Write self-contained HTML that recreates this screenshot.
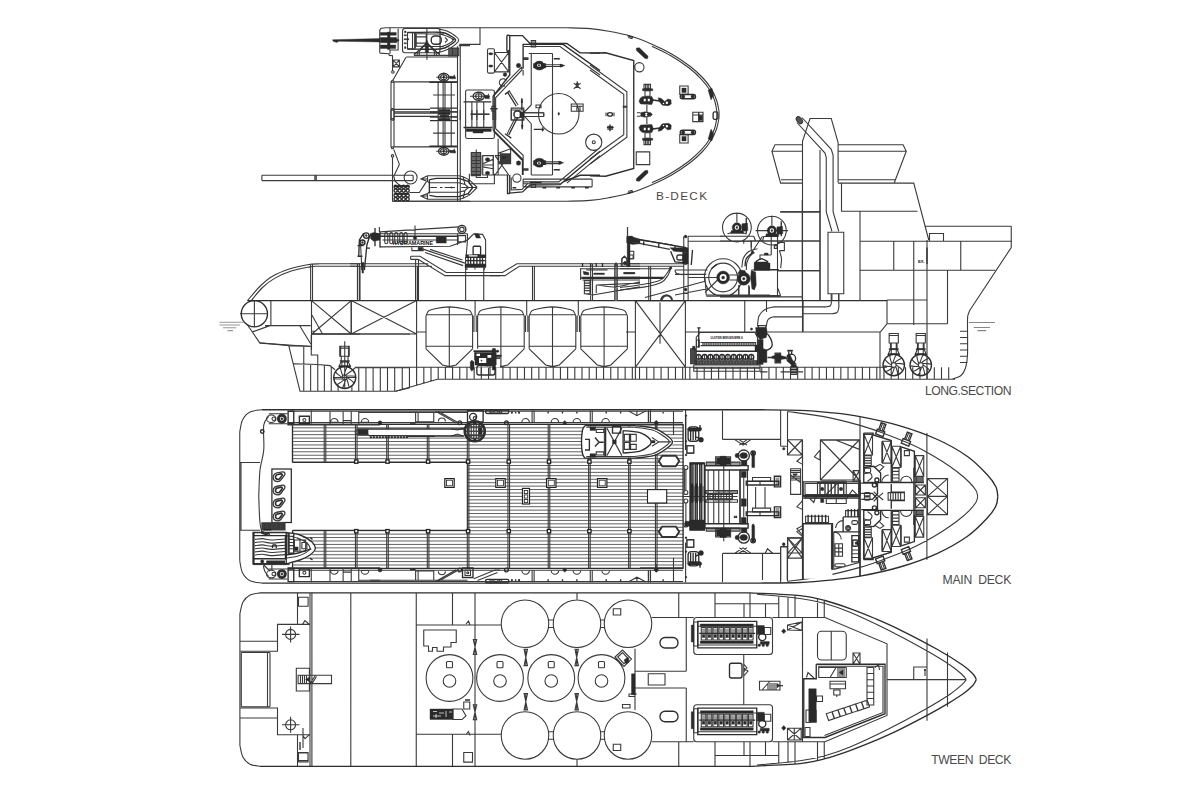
<!DOCTYPE html>
<html lang="en"><head><meta charset="utf-8"><title>General arrangement</title>
<style>
html,body{margin:0;padding:0;background:#fff}
body{width:1200px;height:800px;overflow:hidden;font-family:"Liberation Sans",sans-serif}
svg{display:block}
svg path{fill:none;stroke:#3a3a3a;stroke-width:1.1;stroke-linecap:butt;stroke-linejoin:miter}
svg path.b{stroke-width:1.35;stroke:#2e2e2e}
svg path.f{fill:#2a2a2a;stroke:#2a2a2a;stroke-width:.4}
svg path.g{fill:#9a9a9a;stroke:none}
svg path.w{fill:#fff;stroke:none}
svg text{font-family:"Liberation Sans",sans-serif;fill:#4a4a4a}
</style></head><body>
<svg width="1200" height="800" viewBox="0 0 1200 800">
<g id="p_10_bdeck_a">
<path d="M379.75 53.12 L379.75 30.62M379.75 30.62 C379.89 30.31 380.06 29.19 380.62 28.75 C381.18 28.31 381.97 28.17 383.12 28 C384.27 27.83 386.77 27.79 387.5 27.75M387.5 27.75 L470 27.75M379.75 53.12 L388.75 53.75 L389.38 55.38 L392.5 55.75 L392.5 70.62M398.12 28.75 L398.12 50 L390 50M390 27.75 L390 31.88M390 49.38 L390 53.75M405.25 28.5 H437.25 A2.75 2.75 0 0 1 440 31.25 V50 A2.75 2.75 0 0 1 437.25 52.75 H405.25 A2.75 2.75 0 0 1 402.5 50 V31.25 A2.75 2.75 0 0 1 405.25 28.5ZM437.5 28.5 C439.17 28.96 444.48 29.96 447.5 31.25 C450.52 32.54 453.75 34.79 455.62 36.25 C457.50 37.71 458.75 38.64 458.75 40 C458.75 41.36 457.50 42.82 455.62 44.38 C453.75 45.94 450.52 47.98 447.5 49.38 C444.48 50.78 439.17 52.19 437.5 52.75M440 34 C441.46 34.48 446.56 35.88 448.75 36.88 C450.94 37.88 453.12 38.86 453.12 40 C453.12 41.14 450.94 42.54 448.75 43.75 C446.56 44.96 441.46 46.67 440 47.25M407.5 32.5 L415 32.5 L415 49 L407.5 49ZM412.5 32.5 L412.5 49M416.25 33.75 L426.25 33.75 L426.25 46.25 L416.25 46.25ZM416.25 36.88 L426.25 36.88M416.25 43.12 L426.25 43.12M427.5 34 L443.75 34M427.5 46.5 L443.75 46.5M445 37.5 L447.5 40 L445 42.5M426.88 28.12 L426.88 59.75M424.5 45 L416.88 54.75M429.25 45 L436.88 54.75M414.38 52.75 L419.38 52.75 L419.38 55.5 L414.38 55.5ZM434.38 52.75 L439.38 52.75 L439.38 55.5 L434.38 55.5ZM414.38 55.38 L458.75 55.38M406.25 57 L457.5 57M448.75 48.12 L458.75 48.12 L458.75 55.62 L448.75 55.62ZM450 48.12 L450 55.62M451.25 48.12 L451.25 55.62M452.5 48.12 L452.5 55.62M453.75 48.12 L453.75 55.62M455 48.12 L455 55.62M456.25 48.12 L456.25 55.62M457.5 48.12 L457.5 55.62M457.5 46.25 L457.5 120M460.25 45.62 L460.25 120M458.75 45.62 L470 45.62M393.12 60 L399.38 60 L399.38 66.88 L393.12 66.88ZM393.12 60 L399.38 66.88M399.38 60 L393.12 66.88M391.63 72 a1.25 1.25 0 1 0 2.5 0 a1.25 1.25 0 1 0 -2.5 0ZM406 57.25 L392.88 80.25M391.5 81.25 a1 1 0 1 0 2 0 a1 1 0 1 0 -2 0ZM391 81.25 L391 120M394 81.88 L394 120M394 81.88 L457.5 81.88M440.5 77.25 a3.25 2.5 0 1 0 6.5 0 a3.25 2.5 0 1 0 -6.5 0ZM443.75 72.5 L443.75 81.88M436.25 77.25 L455.62 77.25M438.12 82.25 L438.12 120M443.12 82.25 L443.12 120M445 82.25 L445 120M451.25 82.25 L451.25 120M433.12 95 L455 95M394 109.38 L430 109.38M394 113.12 L438.75 113.12M394 116.5 L438.75 116.5M391.625 109.38 a0.875 0.875 0 1 0 1.75 0 a0.875 0.875 0 1 0 -1.75 0ZM430 111.88 L457.5 111.88M430 116.88 L457.5 116.88"/>
<path class="b" d="M407.5 32.5 C412.92 32.46 432.92 31.73 440 32.25 C447.08 32.77 447.40 34.33 450 35.62 C452.60 36.91 455.62 38.44 455.62 40 C455.62 41.56 452.60 43.50 450 45 C447.40 46.50 447.08 48.33 440 49 C432.92 49.67 412.92 49.00 407.5 49M415 33.12 L415 48.12M434.75 36 H437.75 A3.5 3.5 0 0 1 441.25 39.5 V40.75 A3.5 3.5 0 0 1 437.75 44.25 H434.75 A3.5 3.5 0 0 1 431.25 40.75 V39.5 A3.5 3.5 0 0 1 434.75 36ZM426 43.75 L415 54M427.75 43.75 L438.75 54M429.38 82.25 L456.88 82.25M438.5 77.25 a5.25 3.75 0 1 0 10.5 0 a5.25 3.75 0 1 0 -10.5 0ZM430 108.12 L457.5 108.12"/>
<path class="f" d="M380.25 32.5 L396.25 32.5 L396.25 35.25 L380.25 35.25ZM380.25 37.5 L396.75 37.5 L396.75 42.75 L380.25 42.75ZM380.25 45 L395.75 45 L395.75 48.5 L380.25 48.5ZM387.5 32 L390 32 L390 49.5 L387.5 49.5ZM395 38.75 L399 39.75 L399 40.75 L395 42ZM332.5 39.75 L380 38.5 L380 42 L338.75 41.25 L336.88 42.5 L333.12 41.25ZM404.5 31 L406 31 L406 32.75 L404.5 32.75ZM404 34.75 L406.5 34.75 L406.5 35.75 L404 35.75ZM404 38.75 L409 38.75 L409 39.75 L404 39.75ZM404 42.75 L406.5 42.75 L406.5 43.75 L404 43.75ZM404.5 46.75 L406 46.75 L406 48.5 L404.5 48.5ZM452.5 38.75 L454.25 38.75 L454.25 40 L452.5 40ZM425 44.38 L426.88 40 L428.75 44.38ZM425.25 45 L428.5 45 L428.5 52.5 L425.25 52.5ZM442.75 77.25 a1 1 0 1 1 2 0 a1 1 0 1 1 -2 0ZM449.38 76 L453.12 76.5 L454.38 74.75 L455.62 78.75 L450 78.75ZM438.75 109.38 L450 109.38 L450 110.88 L438.75 110.88ZM438.75 112.5 L450 112.5 L450 114.25 L438.75 114.25ZM440 115.62 L448.75 115.62 L448.75 117.12 L440 117.12ZM438.75 118.75 L450 118.75 L450 120 L438.75 120Z"/>

</g>
<g id="p_11_bdeck_b">
<path class="g" d="M531.88 41.25 L535 41.25 L535 46.25 L531.88 46.25Z"/>
<path d="M480 27.75 L480 44.38 L459.38 44.38M523.75 46.5 L560 46.5 L600 75M521.88 66.88 L521.88 70 L495.62 97.75 L495.62 120M523.12 70 L523.12 75.62M521.88 66.88 L493.75 95.62M531.25 40.62 L535.62 40.62 L535.62 46.88 L531.25 46.88ZM528.75 53.5 L552.5 53.5M531.25 53.5 L531.25 105M552.5 53.5 L552.5 120M531.25 105 L523.75 112.5M545 64.75 L562.5 64.75M545 66.5 L562.5 66.5M523.12 57.88 L528.5 57.88M523.12 58.62 L528.5 58.62M523.12 59.38 L528.5 59.38M488.75 48.75 H493.13 A1.25 1.25 0 0 1 494.38 50 V71.87 A1.25 1.25 0 0 1 493.13 73.12 H488.75 A1.25 1.25 0 0 1 487.5 71.87 V50 A1.25 1.25 0 0 1 488.75 48.75ZM494.38 52.5 L508.75 52.5 L508.75 71.88 L494.38 71.88ZM494.38 52.5 L508.75 71.88M508.75 52.5 L494.38 71.88M505 85.75 A3.75 3.75 0 1 1 506.37 80.62M507.75 51.25 a1 1 0 1 0 2 0 a1 1 0 1 0 -2 0ZM573.75 83.12 L580.62 88.75M580.62 83.12 L573.75 88.75M576 84.38 a1.25 1.25 0 1 0 2.5 0 a1.25 1.25 0 1 0 -2.5 0ZM577.25 81.25 L577.25 88.12M538.5 113.75 a20.25 20.25 0 1 0 40.5 0 a20.25 20.25 0 1 0 -40.5 0ZM571.25 104 L583.12 104 L583.12 111.25 L571.25 111.25ZM571.88 106.25 L582.5 106.25M576.88 106.25 L576.88 111.25M580 106.25 L580 111.25M536 105 L541 105 L541 107.75 L536 107.75ZM509.75 91.88 L518.12 105M511.25 108.12 L523.75 108.12 L523.75 120 L511.25 120ZM514 114.38 a3.5 3.5 0 1 0 7 0 a3.5 3.5 0 1 0 -7 0ZM523.75 112.75 L543.75 112.75M523.75 116.5 L543.75 116.5M543.75 112.75 L543.75 116.5M467.37 90 H492.63 A1.75 1.75 0 0 1 494.38 91.75 V136.75 A1.75 1.75 0 0 1 492.63 138.5 H467.37 A1.75 1.75 0 0 1 465.62 136.75 V91.75 A1.75 1.75 0 0 1 467.37 90ZM475.5 96.25 a3.25 2.5 0 1 0 6.5 0 a3.25 2.5 0 1 0 -6.5 0ZM478.75 91.88 L478.75 101.25M470 96.25 L490 96.25M471.88 101.88 L471.88 120M476.88 101.88 L476.88 120M483.75 101.88 L483.75 120M470.62 114 L489.38 114M491.88 106.25 L495.62 106.25 L495.62 111.25 L491.88 111.25Z"/>
<path class="b" d="M507.88 35.25 H508.75 A1 1 0 0 1 509.75 36.25 V50.5 A1 1 0 0 1 508.75 51.5 H507.88 A1 1 0 0 1 506.88 50.5 V36.25 A1 1 0 0 1 507.88 35.25ZM509.75 35.62 L522.5 35.62 L530 43.5 L566.88 43.5 L580 52.75 L600 53.12M523.12 68.75 L523.12 44.38 L563.12 44.38 L600 70.62M509.75 51.25 L509.75 75 L493.12 96.25 L493.12 120M553.75 58.75 L558.75 58.75M505 94.38 L510 90.62M507.75 92.5 L516.25 106.25M521.88 98.75 L521.88 110M473.125 96.25 a5.625 4 0 1 0 11.25 0 a5.625 4 0 1 0 -11.25 0ZM463.5 101.88 L491.25 101.88M490.25 108.75 L497.5 108.75"/>
<path class="f" d="M533.63 65.62 a5.75 4.5 0 1 1 11.5 0 a5.75 4.5 0 1 1 -11.5 0ZM533.5 63.5 L545.75 63.5 L545.75 68 L533.5 68ZM560 64 L565 65.62 L560 67.25ZM558.25 58.75 a0.75 0.75 0 1 1 1.5 0 a0.75 0.75 0 1 1 -1.5 0ZM488.5 53.75 a2.25 1.125 0 1 1 4.5 0 a2.25 1.125 0 1 1 -4.5 0ZM488.5 66 a2.25 1.125 0 1 1 4.5 0 a2.25 1.125 0 1 1 -4.5 0ZM503.125 74.62 a1.875 1.875 0 1 1 3.75 0 a1.875 1.875 0 1 1 -3.75 0ZM516.25 65.62 a2.25 2.25 0 1 1 4.5 0 a2.25 2.25 0 1 1 -4.5 0ZM558 113.75 a0.75 1.5 0 1 1 1.5 0 a0.75 1.5 0 1 1 -1.5 0ZM521 102.5 L521.88 98.12 L522.75 102.5ZM520 111.88 L523.75 111.88 L523.75 117.5 L520 117.5ZM484.38 95 L487.5 95.62 L488.5 93.75 L489.5 98.75 L485 98.5Z"/>
<path class="w" d="M537 65.25 a2 1.5 0 1 1 4 0 a2 1.5 0 1 1 -4 0ZM543.12 61.88 L545.38 61.88 L545.38 63.12 L543.12 63.12Z"/>
<path class="f" d="M538.125 65.25 a0.875 0.875 0 1 1 1.75 0 a0.875 0.875 0 1 1 -1.75 0Z"/>
</g>
<g id="p_12_bdeck_c">
<path class="g" d="M481.25 155.62 L482.75 155.62 L482.75 174.38 L481.25 174.38Z"/>
<path d="M471.88 110 L471.88 127.5M476.88 110 L476.88 127.5M483.75 110 L483.75 127.5M470.62 114.38 L489.38 114.38M493.12 110 L493.12 130M495.62 110 L495.62 128.75M495.62 128.75 L523.12 155.25 L523.12 175M493.75 131.5 L521.88 160M515.62 116.88 L506.88 134.38M511.25 110 L523.75 110 L523.75 120 L511.25 120ZM514 114.38 a3.5 3.5 0 1 0 7 0 a3.5 3.5 0 1 0 -7 0ZM523.75 112.75 L543.75 112.75M523.75 116.5 L543.75 116.5M543.75 112.75 L543.75 116.5M525 116.88 L531.25 123.75M531.25 123.75 L531.25 175M552.5 110 L552.5 175M531.25 175 L552.5 175M541.88 127.5 L543.75 129.38 L541.88 131.25M585.625 142.25 a8.125 8.125 0 1 0 16.25 0 a8.125 8.125 0 1 0 -16.25 0ZM592.25 142.25 a1.5 1.5 0 1 0 3 0 a1.5 1.5 0 1 0 -3 0ZM545 161.88 L561.25 161.88M545 163.62 L561.25 163.62M523.12 168.75 L528.5 168.75M523.12 169.5 L528.5 169.5M523.12 170.25 L528.5 170.25M511.25 177.5 L511.25 190 L521.88 189.38 L528.12 183.12M523.12 181.88 L558.75 181.88 L600 147.5M566.88 183.12 L600 155.62M523.87 179.12 H591.37 A0.75 0.75 0 0 1 592.12 179.87 V186.13 A0.75 0.75 0 0 1 591.37 186.88 H523.87 A0.75 0.75 0 0 1 523.12 186.13 V179.87 A0.75 0.75 0 0 1 523.87 179.12ZM523.12 183.75 L560 183.75M531.25 184.38 L535.62 184.38 L535.62 187.5 L531.25 187.5ZM471.25 152.5 L480.62 152.5 L480.62 175.62 L471.25 175.62ZM471.25 153.75 L480.62 153.75M471.25 155.12 L480.62 155.12M471.25 156.5 L480.62 156.5M471.25 157.88 L480.62 157.88M471.25 159.25 L480.62 159.25M471.25 160.62 L480.62 160.62M471.25 162 L480.62 162M471.25 163.38 L480.62 163.38M471.25 164.75 L480.62 164.75M471.25 166.12 L480.62 166.12M471.25 167.5 L480.62 167.5M471.25 168.88 L480.62 168.88M471.25 170.25 L480.62 170.25M471.25 171.62 L480.62 171.62M471.25 173 L480.62 173M471.25 174.38 L480.62 174.38M476.25 149.38 L476.25 175.62M469.38 173.75 L469.38 183.75 L494.38 183.75 L494.38 173.75M476.25 175.62 L476.25 177.5 L487.5 177.5 L487.5 175M482.75 155.62 L493.38 155.62 L493.38 175 L482.75 175ZM482.75 165 L493.38 165M482.75 163.75 L493.12 159.38M482.75 166.88 L493.12 168.75M498.75 153.12 L510.62 148.75 L510.62 163.75 L498.75 163.75ZM500 153.75 L510.62 153.75M500 154.75 L510.62 154.75M500 155.75 L510.62 155.75M500 156.75 L510.62 156.75M500 157.75 L510.62 157.75M500 158.75 L510.62 158.75M500 159.75 L510.62 159.75M500 160.75 L510.62 160.75M500 161.75 L510.62 161.75M500 162.75 L510.62 162.75M495 155.62 L508.75 175M508.75 155.62 L495 175M493.12 155.62 L493.12 175M498.12 138.75 L498.12 175M494.38 175 L508.75 175M495 155.62 L510.62 155.62M512.755 178.12 a4.125 4.125 0 1 0 8.25 0 a4.125 4.125 0 1 0 -8.25 0Z"/>
<path class="b" d="M463.5 127.5 L492.5 127.5M493.12 130 L522.5 159.38 L522.5 175M517.5 117.5 L508.75 135M505 133.75 L511.25 138.12M522.25 117.5 L522.25 128.75M533.75 129.38 L543.12 129.38M553.75 169.75 L558.75 169.75M507.5 175 L507.5 193.5 L509.75 193.5M509.75 175 L509.75 193.12 L522.5 191.88 L530 185 L560 184.62 L600 151.25M563.12 181.88 L580 175.25 L600 175.25M512.5 187.75 L516.25 187.75M542.5 187.75 L546.25 187.75M556.25 187.75 L560 187.75M571.25 187.75 L575 187.75M585 187.75 L588.75 187.75"/>
<path class="f" d="M466.25 128.75 L491.25 128.75 L491.25 131.5 L466.25 131.5ZM473.12 131.5 L483.12 131.5 L483.12 133 L473.12 133ZM523.12 125 L522.25 129.38 L521.38 125ZM520 111.88 L523.75 111.88 L523.75 117.5 L520 117.5ZM533.63 162.75 a5.75 4.5 0 1 1 11.5 0 a5.75 4.5 0 1 1 -11.5 0ZM533.5 160.62 L545.75 160.62 L545.75 165.12 L533.5 165.12ZM558.75 161.12 L563.75 162.75 L558.75 164.38ZM558.25 169.75 a0.75 0.75 0 1 1 1.5 0 a0.75 0.75 0 1 1 -1.5 0ZM530 181.88 L541.25 181.88 L541.25 183.12 L530 183.12ZM485.25 159.38 a2.25 1.75 0 1 1 4.5 0 a2.25 1.75 0 1 1 -4.5 0ZM485.25 173.12 a2.25 1.75 0 1 1 4.5 0 a2.25 1.75 0 1 1 -4.5 0ZM501.75 157.25 a2 1.25 0 1 1 4 0 a2 1.25 0 1 1 -4 0ZM516.25 163.12 a2.25 2.25 0 1 1 4.5 0 a2.25 2.25 0 1 1 -4.5 0Z"/>
<path class="w" d="M537 163.12 a2 1.5 0 1 1 4 0 a2 1.5 0 1 1 -4 0ZM543.12 165 L545.38 165 L545.38 166.25 L543.12 166.25Z"/>
<path class="f" d="M538.125 163.12 a0.875 0.875 0 1 1 1.75 0 a0.875 0.875 0 1 1 -1.75 0Z"/>
</g>
<g id="p_13_bdeck_d">
<path d="M391 110 L391 147.5M394 110 L394 147.5M394 111.88 L438.75 111.88M394 116.25 L438.75 116.25M391.875 119.38 a0.875 0.875 0 1 0 1.75 0 a0.875 0.875 0 1 0 -1.75 0ZM394 146.88 L457.5 146.88M391.5 147.75 a1 1 0 1 0 2 0 a1 1 0 1 0 -2 0ZM393.75 149.38 L399.38 164.38 L393.75 176.25 L395 181.25 L400 185.62M391.25 155.88 a1.25 1.25 0 1 0 2.5 0 a1.25 1.25 0 1 0 -2.5 0ZM392.5 157.5 L392.5 201.25M440.5 151.25 a3.25 2.5 0 1 0 6.5 0 a3.25 2.5 0 1 0 -6.5 0ZM443.75 146.5 L443.75 156M436.25 151.25 L455.62 151.25M438.12 121.25 L438.12 146.25M443.12 121.25 L443.12 146.25M445 121.25 L445 146.25M451.25 121.25 L451.25 146.25M433.12 133.12 L455 133.12M430 111.88 L457.5 111.88M430 116.88 L457.5 116.88M457.5 110 L457.5 201.25M460.25 110 L460.25 201.25M261.88 175.25 L413.12 175.25M261.88 180.62 L413.12 180.62M413.12 175.25 L413.12 180.62M261.88 175.25 L261.88 180.62M316.25 175.25 L316.25 180.62M404.12 177.5 a6.5 6.5 0 1 0 13 0 a6.5 6.5 0 1 0 -13 0ZM392.5 201.25 L470 201.25M409.38 192.5 L419.38 192.5 L426.25 181.88"/>
<path class="b" d="M429.38 146.25 L456.88 146.25M438.5 151.25 a5.25 3.75 0 1 0 10.5 0 a5.25 3.75 0 1 0 -10.5 0ZM430 120.62 L457.5 120.62M315 175.25 L315 180.62M393.995 186.88 a1.625 1.625 0 1 0 3.25 0 a1.625 1.625 0 1 0 -3.25 0ZM397.995 186.88 a1.625 1.625 0 1 0 3.25 0 a1.625 1.625 0 1 0 -3.25 0ZM401.995 186.88 a1.625 1.625 0 1 0 3.25 0 a1.625 1.625 0 1 0 -3.25 0ZM405.995 186.88 a1.625 1.625 0 1 0 3.25 0 a1.625 1.625 0 1 0 -3.25 0ZM393.995 190.62 a1.625 1.625 0 1 0 3.25 0 a1.625 1.625 0 1 0 -3.25 0ZM397.995 190.62 a1.625 1.625 0 1 0 3.25 0 a1.625 1.625 0 1 0 -3.25 0ZM401.995 190.62 a1.625 1.625 0 1 0 3.25 0 a1.625 1.625 0 1 0 -3.25 0ZM405.995 190.62 a1.625 1.625 0 1 0 3.25 0 a1.625 1.625 0 1 0 -3.25 0ZM393.995 195.38 a1.625 1.625 0 1 0 3.25 0 a1.625 1.625 0 1 0 -3.25 0ZM397.995 195.38 a1.625 1.625 0 1 0 3.25 0 a1.625 1.625 0 1 0 -3.25 0ZM401.995 195.38 a1.625 1.625 0 1 0 3.25 0 a1.625 1.625 0 1 0 -3.25 0ZM405.995 195.38 a1.625 1.625 0 1 0 3.25 0 a1.625 1.625 0 1 0 -3.25 0ZM393.995 199.12 a1.625 1.625 0 1 0 3.25 0 a1.625 1.625 0 1 0 -3.25 0ZM397.995 199.12 a1.625 1.625 0 1 0 3.25 0 a1.625 1.625 0 1 0 -3.25 0ZM401.995 199.12 a1.625 1.625 0 1 0 3.25 0 a1.625 1.625 0 1 0 -3.25 0ZM405.995 199.12 a1.625 1.625 0 1 0 3.25 0 a1.625 1.625 0 1 0 -3.25 0Z"/>
<path class="f" d="M442.75 151.25 a1 1 0 1 1 2 0 a1 1 0 1 1 -2 0ZM449.38 150 L453.12 150.62 L454.38 148.75 L455.62 153.12 L450 152.75ZM438.75 110 L450 110 L450 111 L438.75 111ZM438.75 112.75 L450 112.75 L450 114.5 L438.75 114.5ZM440 115.62 L448.75 115.62 L448.75 117.12 L440 117.12ZM438.75 118.5 L450 118.5 L450 119.75 L438.75 119.75ZM394.38 185.62 L408.75 185.62 L408.75 186.88 L394.38 186.88ZM394.38 193.12 L408.75 193.12 L408.75 194.38 L394.38 194.38Z"/>
<path d="M427.5 175.81 L420.94 178.94 L427.5 181.44M420.94 178.94 L427.5 178.94M427.5 175.81 L458.75 175.81 L463.12 176.75 L469.38 179.88 L477.19 187.5M427.5 181.44 L429.38 182.69 L458.75 182.69 L465 184.56 L468.44 187.5M463.12 176.75 L465 184.56M469.38 179.88 L468.12 181.44M427.5 199.19 L420.94 196.06 L427.5 193.56M420.94 196.06 L427.5 196.06M427.5 199.19 L458.75 199.19 L463.12 198.25 L469.38 195.12 L477.19 187.5M427.5 193.56 L429.38 192.31 L458.75 192.31 L465 190.44 L468.44 187.5M463.12 198.25 L465 190.44M469.38 195.12 L468.12 193.56M427.5 175.81 L427.5 181.44M427.5 193.62 L427.5 199.25M430.31 187.5 L436.88 187.5M440 187.5 L442.5 187.5M444.69 187.5 L455 187.5M461.25 187.5 L465 187.5M465 187.5 L477.19 187.5"/>
<path class="b" d="M429.38 179.56 L436.25 178.38 L458.75 178.38 L468.12 181.44 L472.81 187.5M429.38 195.44 L436.25 196.62 L458.75 196.62 L468.12 193.56 L472.81 187.5M429.38 179.56 L429.38 193.62"/>
<path class="f" d="M450.94 186.75 L453.12 187.5 L450.94 188.25Z"/>
</g>
<g id="p_14_bdeck_e">
<path d="M470 27.75 L567 27.8M567 27.8 C570.83 27.93 583.04 28.03 590 28.6 C596.96 29.18 601.88 29.98 608.75 31.25 C615.62 32.52 623.96 34.06 631.25 36.25 C638.54 38.44 645.83 41.48 652.5 44.4 C659.17 47.32 665.00 50.11 671.25 53.75 C677.50 57.39 684.79 62.29 690 66.25 C695.21 70.21 698.96 73.75 702.5 77.5 C706.04 81.25 708.92 85.00 711.25 88.75 C713.58 92.50 715.24 96.46 716.5 100 C717.76 103.54 718.38 107.58 718.8 110 C719.22 112.42 718.97 113.75 719 114.5M567 201.2 C570.83 201.07 583.04 200.97 590 200.4 C596.96 199.83 601.88 199.03 608.75 197.75 C615.62 196.47 623.96 194.94 631.25 192.75 C638.54 190.56 645.83 187.52 652.5 184.6 C659.17 181.68 665.00 178.89 671.25 175.25 C677.50 171.61 684.79 166.71 690 162.75 C695.21 158.79 698.96 155.25 702.5 151.5 C706.04 147.75 708.92 144.00 711.25 140.25 C713.58 136.50 715.24 132.54 716.5 129 C717.76 125.46 718.38 121.42 718.8 119 C719.22 116.58 718.97 115.25 719 114.5M392.5 201.25 L567 201.2M652 46.2 C655.08 47.75 664.37 51.90 670.5 55.5 C676.63 59.10 683.72 63.92 688.8 67.8 C693.88 71.68 697.53 75.13 701 78.8 C704.47 82.47 707.33 86.18 709.6 89.8 C711.87 93.42 713.43 97.13 714.6 100.5 C715.77 103.87 716.23 107.67 716.6 110 C716.97 112.33 716.77 113.75 716.8 114.5M652 182.8 C655.08 181.25 664.37 177.10 670.5 173.5 C676.63 169.90 683.72 165.08 688.8 161.2 C693.88 157.32 697.53 153.87 701 150.2 C704.47 146.53 707.33 142.82 709.6 139.2 C711.87 135.58 713.43 131.87 714.6 128.5 C715.77 125.13 716.23 121.33 716.6 119 C716.97 116.67 716.77 115.25 716.8 114.5"/>
<text x="656" y="200.4" font-size="11.8" textLength="51" lengthAdjust="spacing">B-DECK</text>
<path d="M590 65 L626.88 91.88 L626.88 115M590 70 L623.75 94.38 L623.75 115M628.12 37.5 L632.5 38.75M644 84.38 L650.5 84.38 L650.5 88.75 L644 88.75ZM645.62 84.38 L645.62 88.75M647.25 84.38 L647.25 88.75M648.75 84.38 L648.75 88.75M645 90.75 L650 90.75 L650 96.25 L645 96.25ZM646.88 105 L646.88 111.88M636.88 112.75 L640 112.75M679.75 86 L688.12 86 L688.12 94.38 L679.75 94.38ZM590 164 L626.88 137.12 L626.88 114M590 159 L623.75 134.62 L623.75 114M628.12 191.5 L632.5 190.25M644 144.62 L650.5 144.62 L650.5 140.25 L644 140.25ZM645.62 144.62 L645.62 140.25M647.25 144.62 L647.25 140.25M648.75 144.62 L648.75 140.25M645 138.25 L650 138.25 L650 132.75 L645 132.75ZM646.88 124 L646.88 117.12M636.88 116.25 L640 116.25M679.75 143 L688.12 143 L688.12 134.62 L679.75 134.62ZM634.755 67.25 a4.625 4.625 0 1 0 9.25 0 a4.625 4.625 0 1 0 -9.25 0ZM606 112.5 L606 116.25M614 112.5 L614 116.25M606.88 127.5 L613.75 127.5M692.75 112.25 L703 112.25 L703 121.62 L692.75 121.62ZM692.75 115 L703 115M622.75 106.25 L627.5 106.25M622.75 107.12 L627.5 107.12"/>
<path class="b" d="M590 53.12 L605.62 52.75 L633.75 60.62 L633.75 115M627.5 35.62 L633.12 37.5M652.5 100 L660 101M682.25 94.5 H693.5 A2 2 0 0 1 695.5 96.5 V96.75 A2 2 0 0 1 693.5 98.75 H682.25 A2 2 0 0 1 680.25 96.75 V96.5 A2 2 0 0 1 682.25 94.5ZM590 175.88 L605.62 176.25 L633.75 168.38 L633.75 114M627.5 193.38 L633.12 191.5M652.5 129 L660 128M682.25 130.25 H693.5 A2 2 0 0 1 695.5 132.25 V132.5 A2 2 0 0 1 693.5 134.5 H682.25 A2 2 0 0 1 680.25 132.5 V132.25 A2 2 0 0 1 682.25 130.25ZM634 65 L634 69.5M607.5 114.38 a2.5 1.75 0 1 0 5 0 a2.5 1.75 0 1 0 -5 0ZM610 124.38 L610 131.25M698.75 112.25 L698.75 121.62M714.87 111.88 H716.13 A1.75 1.75 0 0 1 717.88 113.63 V117.63 A1.75 1.75 0 0 1 716.13 119.38 H714.87 A1.75 1.75 0 0 1 713.12 117.63 V113.63 A1.75 1.75 0 0 1 714.87 111.88Z"/>
<path class="f" d="M636.25 48.12 L639.38 47.75 L648.12 56.25 L647.5 58.75 L645 58.5 L636.5 50.62ZM708.12 90 L711.88 88.12 L713.75 95 L711 100ZM642.5 88.75 L652.75 88.75 L652.75 90.75 L642.5 90.75ZM640 98.5 L642.5 96.5 L651.88 96.5 L653.5 100 L651.88 104.5 L640.62 104 L639 101.5ZM640.25 112.75 L645 111.75 L651 112.75 L652.25 115 L641.5 115.5ZM658.12 97.75 L661 98.25 L664.75 101.5 L667.75 99 L671 99.75 L671.25 104 L668.5 105.75 L662.25 105.25 L658.75 100.75ZM681.88 88.12 L686.12 88.12 L686.12 92.5 L681.88 92.5ZM681.37 96.62 a1.75 1.75 0 1 1 3.5 0 a1.75 1.75 0 1 1 -3.5 0ZM691 96.62 a1.75 1.75 0 1 1 3.5 0 a1.75 1.75 0 1 1 -3.5 0ZM636.5 178.38 L645 170.5 L647.5 170.25 L648.12 172.75 L639.38 181.25 L636.25 180.88ZM711 129 L713.75 134 L711.88 140.88 L708.12 139ZM642.5 138.25 L652.75 138.25 L652.75 140.25 L642.5 140.25ZM639 127.5 L640.62 125 L651.88 124.5 L653.5 129 L651.88 132.5 L642.5 132.5 L640 130.5ZM641.5 113.5 L652.25 114 L651 116.25 L645 117.25 L640.25 116.25ZM658.75 128.25 L662.25 123.75 L668.5 123.25 L671.25 125 L671 129.25 L667.75 130 L664.75 127.5 L661 130.75 L658.12 131.25ZM681.88 136.5 L686.12 136.5 L686.12 140.88 L681.88 140.88ZM681.37 132.38 a1.75 1.75 0 1 1 3.5 0 a1.75 1.75 0 1 1 -3.5 0ZM691 132.38 a1.75 1.75 0 1 1 3.5 0 a1.75 1.75 0 1 1 -3.5 0ZM607.5 126.25 L613 126.25 L613 127.25 L607.5 127.25ZM607.5 128.5 L613 128.5 L613 129.5 L607.5 129.5ZM699 115.62 L702.5 115.62 L702.5 120.62 L699 120.62Z"/>
<path class="w" d="M643.75 98.75 L645.75 98.75 L645.75 101.25 L643.75 101.25ZM647.75 98.75 L649.75 98.75 L649.75 101.25 L647.75 101.25ZM645.125 113.75 a1.125 1.125 0 1 1 2.25 0 a1.125 1.125 0 1 1 -2.25 0ZM665.63 102.75 a1.25 1.25 0 1 1 2.5 0 a1.25 1.25 0 1 1 -2.5 0ZM662.75 103.5 a0.75 0.75 0 1 1 1.5 0 a0.75 0.75 0 1 1 -1.5 0ZM643.75 127.75 L645.75 127.75 L645.75 130.25 L643.75 130.25ZM647.75 127.75 L649.75 127.75 L649.75 130.25 L647.75 130.25ZM645.125 115.25 a1.125 1.125 0 1 1 2.25 0 a1.125 1.125 0 1 1 -2.25 0ZM665.63 126.25 a1.25 1.25 0 1 1 2.5 0 a1.25 1.25 0 1 1 -2.5 0ZM662.75 125.5 a0.75 0.75 0 1 1 1.5 0 a0.75 0.75 0 1 1 -1.5 0Z"/>
<path d="M636.25 151.88 L649.75 151.88 L649.75 164.62 L636.25 164.62Z"/>
</g>
<g id="p_20_ls_stern">
<path d="M247.5 300.62 C249.58 298.23 255.83 290.31 260 286.25 C264.17 282.19 267.50 279.17 272.5 276.25 C277.50 273.33 284.17 270.67 290 268.75 C295.83 266.83 302.50 265.58 307.5 264.75 C312.50 263.92 317.92 263.92 320 263.75M320 263.75 L360 263.75M251.25 300.62 C253.12 298.43 258.54 291.25 262.5 287.5 C266.46 283.75 270.21 280.87 275 278.12 C279.79 275.37 285.42 272.87 291.25 271 C297.08 269.13 305.83 267.67 310 266.88 C314.17 266.09 315.21 266.36 316.25 266.25M316.25 266.25 L360 266.25M254.38 300.62 L254.38 326.88M240 313.75 L267.5 313.75M270.88 300.62 L270.88 325.62M265 325.62 L310.62 325.62M310.62 264.75 L310.62 300.62M312.5 264.5 L312.5 300.62M311.5 300.62 L311.5 350M357.5 263.75 L357.5 300.62M359.38 263.75 L359.38 300.62M311.5 300.62 L351.25 334M351.25 300.62 L311.88 334M311.88 315 L322.5 334M351.25 300.62 L351.25 334M311.5 334 L360 334M312.25 331.25 L315 331.25M247.5 325 L260 343.12 L310.62 346.5M252.5 331.88 L270 325.62M300 326.25 L310.62 343.75"/>
<path class="b" d="M241.255 313.75 a13.125 13.125 0 1 0 26.25 0 a13.125 13.125 0 1 0 -26.25 0Z"/>
<path style="stroke:#999" d="M219.4 322.2H243.8M219.4 325H240M223 327.8H236.2M227.5 330.6H233"/>
<path d="M288.75 345.62 L300 391.25 L395.62 391.25 L410 387.75M260 342.75 L288.75 345.62 L310.62 346.25M303.75 346.25 L303.75 391.25M311.25 335 L311.25 355 L317.75 355 L317.75 365M293.75 363.75 L317.75 364.5 L330 365.62 L335 369.75M355 367.75 L410 367.75M355 367.75 L353.12 369.75M310.62 365 L310.62 391.25M317.75 365 L317.75 391.25M324.38 365.75 L324.38 391.25M331.25 365.75 L331.25 391.25M338.12 385 L338.12 391.25M351.88 385 L351.88 391.25M358.75 367.75 L358.75 391.25M365.94 367.75 L365.94 391.25M373.12 367.75 L373.12 391.25M380.31 367.75 L380.31 391.25M387.5 367.75 L387.5 391.25M394.69 367.75 L394.69 391.25M311.25 334 L410 334M342.5 377.5 a2.25 2.25 0 1 0 4.5 0 a2.25 2.25 0 1 0 -4.5 0ZM344.75 341.25 L344.75 388.75M333.12 377.5 L356.25 377.5M347.25 377.5 C347.97 378.03 350.42 379.77 351.55 380.67 C352.69 381.57 353.64 382.51 354.06 382.88M346.77 378.97 C347.04 379.82 348.00 382.67 348.39 384.06 C348.78 385.45 349.00 386.78 349.12 387.32M345.52 379.88 C345.24 380.72 344.34 383.58 343.84 384.94 C343.34 386.30 342.73 387.51 342.51 388.02M343.98 379.88 C343.26 380.40 340.84 382.19 339.64 382.99 C338.44 383.79 337.24 384.41 336.76 384.69M342.73 378.97 C341.84 378.96 338.83 378.99 337.39 378.93 C335.94 378.87 334.62 378.67 334.06 378.62M342.25 377.5 C341.53 376.97 339.08 375.23 337.95 374.33 C336.81 373.43 335.86 372.49 335.44 372.12M342.73 376.03 C342.46 375.18 341.50 372.33 341.11 370.94 C340.72 369.55 340.50 368.22 340.38 367.68M343.98 375.12 C344.26 374.28 345.16 371.42 345.66 370.06 C346.16 368.70 346.77 367.49 346.99 366.98M345.52 375.12 C346.24 374.60 348.66 372.81 349.86 372.01 C351.06 371.21 352.26 370.59 352.74 370.31M346.77 376.03 C347.66 376.04 350.67 376.01 352.11 376.07 C353.56 376.13 354.88 376.33 355.44 376.38M339.75 346.25 L349.25 346.25 L349.25 356.25 L339.75 356.25ZM339.75 348.12 L349.25 348.12M340.62 346.25 L340.62 356.25M348.5 346.25 L348.5 356.25M341.25 356.25 L348 356.25 L348 361.88 L341.25 361.88ZM341 361.88 L338.75 366.88M348.25 361.88 L350.75 366.88M341.88 361.88 L341.88 366.25M347.5 361.88 L347.5 366.25"/>
<path class="b" d="M333.75 377.5 a11 11 0 1 0 22 0 a11 11 0 1 0 -22 0Z"/>
<path class="f" d="M340 360.62 L349.5 360.62 L349.5 361.62 L340 361.62ZM339 365.62 L350.5 365.62 L350.5 366.88 L339 366.88Z"/>
</g>
<g id="p_21_ls_hull">
<path d="M887 300 L927 300M437.5 379.2 L955 379.2M355 367.2 L887 367.2M395.6 391.25 L437.5 379.2M402.25 367.2 L402.25 389.34M409.44 367.2 L409.44 387.27M416.63 367.2 L416.63 385.2M423.82 367.2 L423.82 383.13M431.01 367.2 L431.01 381.07M438.2 367.2 L438.2 379.2M445.39 367.2 L445.39 379.2M452.58 367.2 L452.58 379.2M459.77 367.2 L459.77 379.2M466.96 367.2 L466.96 379.2M474.15 367.2 L474.15 379.2M481.34 367.2 L481.34 379.2M488.53 367.2 L488.53 379.2M495.72 367.2 L495.72 379.2M502.91 367.2 L502.91 379.2M510.1 367.2 L510.1 379.2M517.29 367.2 L517.29 379.2M524.48 367.2 L524.48 379.2M531.67 367.2 L531.67 379.2M538.86 367.2 L538.86 379.2M546.05 367.2 L546.05 379.2M553.24 367.2 L553.24 379.2M560.43 367.2 L560.43 379.2M567.62 367.2 L567.62 379.2M574.81 367.2 L574.81 379.2M582 367.2 L582 379.2M589.19 367.2 L589.19 379.2M596.38 367.2 L596.38 379.2M603.57 367.2 L603.57 379.2M610.76 367.2 L610.76 379.2M617.95 367.2 L617.95 379.2M625.14 367.2 L625.14 379.2M632.33 367.2 L632.33 379.2M639.52 367.2 L639.52 379.2M646.71 367.2 L646.71 379.2M653.9 367.2 L653.9 379.2M661.09 367.2 L661.09 379.2M668.28 367.2 L668.28 379.2M675.47 367.2 L675.47 379.2M682.66 367.2 L682.66 379.2M689.85 367.2 L689.85 379.2M697.04 367.2 L697.04 379.2M704.23 367.2 L704.23 379.2M711.42 367.2 L711.42 379.2M718.61 367.2 L718.61 379.2M725.8 367.2 L725.8 379.2M732.99 367.2 L732.99 379.2M740.18 367.2 L740.18 379.2M747.37 367.2 L747.37 379.2M754.56 367.2 L754.56 379.2M761.75 367.2 L761.75 379.2M768.94 367.2 L768.94 379.2M776.13 367.2 L776.13 379.2M783.32 367.2 L783.32 379.2M790.51 367.2 L790.51 379.2M797.7 367.2 L797.7 379.2M804.89 367.2 L804.89 379.2M812.08 367.2 L812.08 379.2M819.27 367.2 L819.27 379.2M826.46 367.2 L826.46 379.2M833.65 367.2 L833.65 379.2M840.84 367.2 L840.84 379.2M848.03 367.2 L848.03 379.2M855.22 367.2 L855.22 379.2M862.41 367.2 L862.41 379.2M869.6 367.2 L869.6 379.2M876.79 367.2 L876.79 379.2M883.98 367.2 L883.98 379.2M891.17 367.2 L891.17 379.2M898.36 367.2 L898.36 379.2M905.55 367.2 L905.55 379.2M912.74 367.2 L912.74 379.2M919.93 367.2 L919.93 379.2M927.12 367.2 L927.12 379.2M934.31 367.2 L934.31 379.2M941.5 367.2 L941.5 379.2M948.69 367.2 L948.69 379.2M416.6 300.6 L416.6 386M415.6 266.25 L415.6 300.6M417.5 266.25 L417.5 300.6M311.5 334 L416.6 334M416.6 332 L425.9 332M626 332 L635.4 332M685.4 332 L757 332M768 332 L880 332M351.25 300.6 L351.25 334M351.25 300.6 L416.6 334M416.6 300.6 L351.25 334M426 348.8 L426 316M426 316 C426.25 315.42 426.67 313.53 427.5 312.5 C428.33 311.47 427.37 310.73 431 309.8 C434.63 308.87 443.20 306.90 449.3 306.9 C455.40 306.90 463.97 308.87 467.6 309.8 C471.23 310.73 470.27 311.47 471.1 312.5 C471.93 313.53 472.35 315.42 472.6 316M472.6 316 L472.6 348.8M426 348.8 L442.5 365 L449.3 366.6 L456.1 365 L472.6 348.8M426 314.7 L472.6 314.7M426 346.2 L472.6 346.2M449.3 306.9 L449.3 366.6M477.6 348.8 L477.6 316M477.6 316 C477.85 315.42 478.27 313.53 479.1 312.5 C479.93 311.47 478.97 310.73 482.6 309.8 C486.23 308.87 494.80 306.90 500.9 306.9 C507.00 306.90 515.57 308.87 519.2 309.8 C522.83 310.73 521.87 311.47 522.7 312.5 C523.53 313.53 523.95 315.42 524.2 316M524.2 316 L524.2 348.8M477.6 348.8 L494.1 365 L500.9 366.6 L507.7 365 L524.2 348.8M477.6 314.7 L524.2 314.7M477.6 346.2 L524.2 346.2M500.9 306.9 L500.9 366.6M529.2 348.8 L529.2 316M529.2 316 C529.45 315.42 529.87 313.53 530.7 312.5 C531.53 311.47 530.57 310.73 534.2 309.8 C537.83 308.87 546.40 306.90 552.5 306.9 C558.60 306.90 567.17 308.87 570.8 309.8 C574.43 310.73 573.47 311.47 574.3 312.5 C575.13 313.53 575.55 315.42 575.8 316M575.8 316 L575.8 348.8M529.2 348.8 L545.7 365 L552.5 366.6 L559.3 365 L575.8 348.8M529.2 314.7 L575.8 314.7M529.2 346.2 L575.8 346.2M552.5 306.9 L552.5 366.6M580.8 348.8 L580.8 316M580.8 316 C581.05 315.42 581.47 313.53 582.3 312.5 C583.13 311.47 582.17 310.73 585.8 309.8 C589.43 308.87 598.00 306.90 604.1 306.9 C610.20 306.90 618.77 308.87 622.4 309.8 C626.03 310.73 625.07 311.47 625.9 312.5 C626.73 313.53 627.15 315.42 627.4 316M627.4 316 L627.4 348.8M580.8 348.8 L597.3 365 L604.1 366.6 L610.9 365 L627.4 348.8M580.8 314.7 L627.4 314.7M580.8 346.2 L627.4 346.2M604.1 306.9 L604.1 366.6M475.1 300.6 L475.1 315.5M473.95 315.5 L473.95 332M476.25 315.5 L476.25 332M526.7 300.6 L526.7 315.5M525.55 315.5 L525.55 332M527.85 315.5 L527.85 332M578.3 300.6 L578.3 315.5M577.15 315.5 L577.15 332M579.45 315.5 L579.45 332M635.4 300.6 L685.4 300.6 L685.4 367.2 L635.4 367.2ZM635.4 300.6 L685.4 367.2M685.4 300.6 L635.4 367.2M685.4 367.2 L685.4 379.2M635.4 367.2 L635.4 379.2M660 302.5 L660 343.8M660.6 300.6 A5.6 5.6 0 0 1 671.8 300.6M744.75 300.6 L744.75 332M766.5 300.6 L766.5 312M803.1 300.6 L803.1 332M757.5 326.5 C757.75 324.75 757.75 318.83 759 316 C760.25 313.17 762.54 311.02 765 309.5 C767.46 307.98 772.29 307.33 773.75 306.9M773.75 306.9 L803.1 306.9M766.3 326.5 C766.50 325.50 766.88 321.92 767.5 320.5 C768.12 319.08 768.96 318.60 770 318 C771.04 317.40 773.12 317.08 773.75 316.9M773.75 316.9 L803.1 316.9M803.1 306.9 L826 306.9M803.1 313.8 L832 313.8M826 306.9 C826.67 306.75 829.12 306.57 830 306 C830.88 305.43 831.04 304.50 831.25 303.5 C831.46 302.50 831.25 300.58 831.25 300M832 313.8 C832.83 313.58 835.88 313.47 837 312.5 C838.12 311.53 838.46 310.08 838.75 308 C839.04 305.92 838.75 301.33 838.75 300M831.25 293.75 L831.25 300.6M838.75 293.75 L838.75 300.6M802.5 300.6 L802.5 332.5M887 300.6 L887 323.75 L880 332.5 L880 379.2M887 323.75 L947.5 323.75M891.35 365 a2.4 2.4 0 1 0 4.8 0 a2.4 2.4 0 1 0 -4.8 0ZM896.25 365 C896.92 365.51 899.21 367.11 900.28 368.04 C901.35 368.97 902.25 370.14 902.65 370.56M895.77 366.47 C896.01 367.28 896.92 369.92 897.24 371.3 C897.56 372.68 897.61 374.17 897.68 374.74M894.52 367.38 C894.25 368.18 893.42 370.85 892.87 372.15 C892.32 373.45 891.49 374.68 891.21 375.19M892.98 367.38 C892.29 367.86 890.05 369.54 888.84 370.27 C887.63 371.00 886.23 371.50 885.71 371.75M891.73 366.47 C890.89 366.45 888.09 366.49 886.68 366.37 C885.27 366.25 883.85 365.84 883.28 365.73M891.25 365 C890.58 364.49 888.29 362.89 887.22 361.96 C886.15 361.03 885.25 359.86 884.85 359.44M891.73 363.53 C891.49 362.72 890.58 360.08 890.26 358.7 C889.94 357.32 889.89 355.83 889.82 355.26M892.98 362.62 C893.25 361.82 894.08 359.15 894.63 357.85 C895.18 356.55 896.01 355.32 896.29 354.81M894.52 362.62 C895.21 362.14 897.45 360.46 898.66 359.73 C899.87 359.00 901.27 358.50 901.79 358.25M895.77 363.53 C896.61 363.55 899.41 363.51 900.82 363.63 C902.23 363.75 903.65 364.16 904.22 364.27M889.15 333.5 L898.35 333.5 L898.35 343 L889.15 343ZM889.15 335.5 L898.35 335.5M890.45 343 L897.05 343 L897.05 349 L890.45 349ZM890.15 349.7 L887.95 355M897.35 349.7 L899.55 355M891.25 343 L891.25 354M896.25 343 L896.25 354M918.35 365 a2.4 2.4 0 1 0 4.8 0 a2.4 2.4 0 1 0 -4.8 0ZM923.25 365 C923.92 365.51 926.21 367.11 927.28 368.04 C928.35 368.97 929.25 370.14 929.65 370.56M922.77 366.47 C923.01 367.28 923.92 369.92 924.24 371.3 C924.56 372.68 924.61 374.17 924.68 374.74M921.52 367.38 C921.25 368.18 920.42 370.85 919.87 372.15 C919.32 373.45 918.49 374.68 918.21 375.19M919.98 367.38 C919.29 367.86 917.05 369.54 915.84 370.27 C914.63 371.00 913.23 371.50 912.71 371.75M918.73 366.47 C917.89 366.45 915.09 366.49 913.68 366.37 C912.27 366.25 910.85 365.84 910.28 365.73M918.25 365 C917.58 364.49 915.29 362.89 914.22 361.96 C913.15 361.03 912.25 359.86 911.85 359.44M918.73 363.53 C918.49 362.72 917.58 360.08 917.26 358.7 C916.94 357.32 916.89 355.83 916.82 355.26M919.98 362.62 C920.25 361.82 921.08 359.15 921.63 357.85 C922.18 356.55 923.01 355.32 923.29 354.81M921.52 362.62 C922.21 362.14 924.45 360.46 925.66 359.73 C926.87 359.00 928.27 358.50 928.79 358.25M922.77 363.53 C923.61 363.55 926.41 363.51 927.82 363.63 C929.23 363.75 930.65 364.16 931.22 364.27M916.15 333.5 L925.35 333.5 L925.35 343 L916.15 343ZM916.15 335.5 L925.35 335.5M917.45 343 L924.05 343 L924.05 349 L917.45 349ZM917.15 349.7 L914.95 355M924.35 349.7 L926.55 355M918.25 343 L918.25 354M923.25 343 L923.25 354M1011.25 226.25 L1011.25 247.5 L970 310M970 310 C969.67 310.83 968.42 313.00 968 315 C967.58 317.00 967.58 315.33 967.5 322 C967.42 328.67 967.83 347.33 967.5 355 C967.17 362.67 966.58 364.58 965.5 368 C964.42 371.42 963.25 373.63 961 375.5 C958.75 377.37 953.50 378.58 952 379.2M960 331.2 L967.5 331.2M960 337.5 L967.5 337.5M960 343.8 L967.5 343.8M960 350 L967.5 350M960 356.2 L967.5 356.2M960 362.5 L967.5 362.5"/>
<path class="b" d="M247.5 300.6 L887 300.6M883 365 a10.75 10.75 0 1 0 21.5 0 a10.75 10.75 0 1 0 -21.5 0ZM910 365 a10.75 10.75 0 1 0 21.5 0 a10.75 10.75 0 1 0 -21.5 0Z"/>
<path class="f" d="M889.15 348.5 L898.35 348.5 L898.35 349.7 L889.15 349.7ZM888.15 353.5 L899.35 353.5 L899.35 354.8 L888.15 354.8ZM916.15 348.5 L925.35 348.5 L925.35 349.7 L916.15 349.7ZM915.15 353.5 L926.35 353.5 L926.35 354.8 L915.15 354.8Z"/>
<path style="stroke:#888" d="M968.8 322.5H995M973.8 327.5H990M977.5 330.6H986.2"/>
<text x="925" y="395.2" font-size="12.2" textLength="86.5" lengthAdjust="spacing">LONG.SECTION</text>
</g>
<g id="p_22_ls_super">
<path d="M802.5 300.6 L802.5 141.25 L810 118.5 L831.25 118.5 L838.1 142.5 L838.1 182.5M820 150 L820 300.6M796.9 122.5 L825 153.1 L826.25 157.5 L826.25 211.9 L831.9 231.25M801.9 117.5 L831.25 149.4 L833.1 155 L833.1 211.9 L838.75 231.25M828 232.25 L843.75 232.25 L843.75 293.75 L828 293.75ZM802.5 183.1 L780.6 183.1 L771.9 151.25 L775 144.75 L802.5 144.75M838.1 144.75 L903.1 144.75 L906.25 151.25 L894.4 182.5M771.9 151.25 L802.5 151.25M838.1 151.25 L906.25 151.25M781 179.75 L802.5 179.75M838.1 179.75 L895.5 179.75M838.1 183.1 L913.75 183.1 L928.75 240M841.5 183.1 L841.5 211.25 L917.5 211.25M780 211.9 L820 211.9M860 211.25 L860 300.6M925 226.25 L1011.25 226.25M860 241.25 L1011.25 241.25M860 270.3 L947.5 270.3M913.75 270.3 L995.5 270.3M893.75 241.25 L893.75 270.3M913.75 241.25 L913.75 325M927 240 L927 379M960.75 241.25 L960.75 270.3M947.5 270.3 L947.5 323.75M929.5 233.5 L943.5 233.5 L943.5 241.25 L929.5 241.25ZM750 241 L802.5 241M777.5 270.6 L802.5 270.6M802.5 270.6 L820 270.6M802.5 241 L820 241M831.9 293.75 L831.9 300.6M838.75 293.75 L838.75 300.6"/>
<path class="b" d="M927 247.5 L927 264"/>
<ellipse cx="799.4" cy="120.2" rx="2.6" ry="4.2" transform="rotate(-38 799.4 120.2)" style="fill:#555;stroke:#222;stroke-width:.8"/>
<text x="918" y="262.8" font-size="4.2" font-weight="bold" style="fill:#111">EX.</text>
</g>
<g id="p_23_ls_deck">
<path d="M350 263.75 L428.12 263.75M350 266.25 L431.88 266.25M410.62 256.25 L420 256.25 L446.25 272.5 L500 272.5M410.62 259.38 L418.12 259.38 L445 275.62 L500 275.62M410.62 256.25 L410.62 259.38M357.5 266.25 L357.5 300.62M360 266.25 L360 300.62M415.62 259.38 L415.62 300.62M418.5 259.38 L418.5 300.62M465.62 266.25 L465.62 300.62M483.75 266.25 L483.75 300.62M380 231.88 L458.75 226.88M372.5 233.75 L457.5 233.75 L467.5 233.75M380 246.88 L450 246.25 L467.5 240 L467.5 233.75M379.38 226.88 L379.38 231.88M415 225.62 L415 238.75M382.5 240 L457.5 240M386.25 232.5 H386.25 A1.5 1.5 0 0 1 387.75 234 V242.25 A1.5 1.5 0 0 1 386.25 243.75 H386.25 A1.5 1.5 0 0 1 384.75 242.25 V234 A1.5 1.5 0 0 1 386.25 232.5ZM391.25 232.5 H391.25 A1.5 1.5 0 0 1 392.75 234 V242.25 A1.5 1.5 0 0 1 391.25 243.75 H391.25 A1.5 1.5 0 0 1 389.75 242.25 V234 A1.5 1.5 0 0 1 391.25 232.5ZM396.25 232.5 H396.25 A1.5 1.5 0 0 1 397.75 234 V242.25 A1.5 1.5 0 0 1 396.25 243.75 H396.25 A1.5 1.5 0 0 1 394.75 242.25 V234 A1.5 1.5 0 0 1 396.25 232.5ZM401.25 232.5 H401.25 A1.5 1.5 0 0 1 402.75 234 V242.25 A1.5 1.5 0 0 1 401.25 243.75 H401.25 A1.5 1.5 0 0 1 399.75 242.25 V234 A1.5 1.5 0 0 1 401.25 232.5ZM405.62 232.5 H405.62 A1.5 1.5 0 0 1 407.12 234 V242.25 A1.5 1.5 0 0 1 405.62 243.75 H405.62 A1.5 1.5 0 0 1 404.12 242.25 V234 A1.5 1.5 0 0 1 405.62 232.5ZM459.63 229.38 a2.25 2.25 0 1 0 4.5 0 a2.25 2.25 0 1 0 -4.5 0ZM457.5 233.75 L457.5 245M458.12 235.62 L465.62 235.62 L465.62 241.88 L458.12 241.88ZM360.62 245 L361.88 270M423.75 249.38 L465 263.12M425 252.5 L463.12 265.62M430 249.38 L462.5 260M411.88 246.88 L423.12 246.88 L423.12 250.62 L411.88 250.62ZM467.5 240 L473.75 233.75 L482.5 234.38 L485.62 240 L485.62 267.5M467.5 240 L466.25 255M465.62 257.5 L485.62 257.5 L485.62 264.38 L465.62 264.38ZM466.88 267.5 L466.88 270M484.38 267.5 L484.38 270M475 267.5 L475 269.38"/>
<path class="b" d="M380 231.88 L380 247.5M375 228.12 L375 246.25M372.5 236.25 L457.5 236.25M457.88 229.38 a4 4 0 1 0 8 0 a4 4 0 1 0 -8 0ZM363.5 235.62 a2.75 2.75 0 1 0 5.5 0 a2.75 2.75 0 1 0 -5.5 0ZM360 242.5 a2.5 2.5 0 1 0 5 0 a2.5 2.5 0 1 0 -5 0ZM363.75 233.12 L359.38 240 L358.75 256.25M370 235 L366.88 245 L364.38 270M357.5 245.62 L363.75 245.62M357.5 256.25 L362.5 256.25M366.25 248.12 L370 248.12M474.12 246.25 H479.62 A1 1 0 0 1 480.62 247.25 V254 A1 1 0 0 1 479.62 255 H474.12 A1 1 0 0 1 473.12 254 V247.25 A1 1 0 0 1 474.12 246.25ZM468.12 257.5 L468.12 264.38M470.62 257.5 L470.62 264.38M473.75 257.5 L473.75 264.38M476.88 257.5 L476.88 264.38M480 257.5 L480 264.38M482.5 257.5 L482.5 264.38M465.62 260.62 L485.62 260.62"/>
<path class="f" d="M413.25 238.12 a1.75 1.75 0 1 1 3.5 0 a1.75 1.75 0 1 1 -3.5 0ZM436.25 236.88 L446.25 236.88 L446.25 243.12 L436.25 243.12ZM365.25 235.62 a1 1 0 1 1 2 0 a1 1 0 1 1 -2 0ZM361.5 242.5 a1 1 0 1 1 2 0 a1 1 0 1 1 -2 0ZM361.5 262.5 L364 262.5 L363.5 273.12 L362 273.12ZM370 233.75 L373.75 232.5 L380 233.75 L380 240 L373.75 241.25 L370.62 238.75ZM418.12 247.25 L422.5 247.25 L422.5 250.25 L418.12 250.25ZM474.38 233.75 L478.75 233.75 L480.62 238.12 L476.25 238.12ZM465.62 254.75 L485.62 254.75 L485.62 257.5 L465.62 257.5ZM465 264.38 L485.62 264.38 L485.62 267.5 L465 267.5Z"/>
<path class="w" d="M468.75 255.25 L477.5 255.25 L477.5 256.5 L468.75 256.5Z"/>
<text x="392.6" y="245.4" font-size="5.2" font-weight="bold" textLength="40.5" lengthAdjust="spacingAndGlyphs" style="fill:#111">HYDRAMARINE</text>
<path class="g" d="M614.75 263.75 L617.25 263.75 L617.25 300.62 L614.75 300.62Z"/>
<path d="M490 272.5 L502.5 272.5 L516.88 263.75 L640 263.75M490 275.62 L505 275.62 L519.38 266.25 L640 266.25M532.5 266.25 L532.5 300.62M534.38 266.25 L534.38 300.62M590.62 263.75 L590.62 300.62M592.5 263.75 L592.5 300.62M614.75 263.75 L614.75 300.62M617.25 263.75 L617.25 300.62M580.62 268.12 L580.62 280M581.25 268.75 L640 268.75M582.5 280 L640 280M592.5 295 L640 286.88M585 293.75 L592.5 295M596.25 285 L640 283.12M596.25 285 L596.25 293.12M597.5 285 C600.42 285.31 607.92 287.40 615 286.88 C622.08 286.36 635.83 282.71 640 281.88M584.38 280.62 L590 280.62 L590 293.75 L584.38 293.75ZM584.38 283.12 L590 283.12M584.38 285.62 L590 285.62M584.38 288.12 L590 288.12M584.38 290.62 L590 290.62M586.25 270 L607.5 270M627.5 226.88 L627.5 237.5M629.38 255 L633.12 255 L633.12 258.75 L629.38 258.75ZM621.88 258.75 L624.38 256.25 L626.88 258.75 L626.88 266.25 L621.88 266.25Z"/>
<path class="b" d="M581.25 277.5 L640 277.5M581.25 278.25 L640 278.25M582.5 263.12 L582.5 266.88M590.62 263.12 L590.62 266.88M596.25 263.12 L596.25 266.88M602.5 263.12 L602.5 266.88M616 262.5 L616 266.25"/>
<path class="f" d="M593.75 273.12 L604.38 273.12 L604.38 274.62 L593.75 274.62ZM623.75 272.5 L634.38 272.5 L634.38 273.75 L623.75 273.75ZM583.12 271.25 L588.75 272.5 L588.75 275 L583.75 274.38ZM627.25 237.5 L629.25 237.5 L629.25 266.88 L627.25 266.88ZM626.88 236.88 L631.25 236.25 L640 239.38 L640 243.75 L632.5 244.38 L626.88 243.12ZM623.5 263.12 a1.5 1.5 0 1 1 3 0 a1.5 1.5 0 1 1 -3 0Z"/>
<path d="M620 263.75 L683.75 263.75M620 266.25 L683.75 266.25M648.75 266.25 L648.75 300.62M650.62 266.25 L650.62 300.62M620 268.75 L670 268.75M671.25 266.88 C670.73 268.23 669.79 272.40 668.12 275 C666.45 277.60 665.10 280.52 661.25 282.5 C657.40 284.48 651.88 285.63 645 286.88 C638.12 288.13 624.17 289.48 620 290M670 268.75 C668.96 270.21 665.83 275.42 663.75 277.5 C661.67 279.58 661.67 280.00 657.5 281.25 C653.33 282.50 645.00 283.96 638.75 285 C632.50 286.04 623.12 287.08 620 287.5M627.5 226.88 L627.5 236.25M629.38 251.25 L633.75 251.25 L633.75 258.75 L629.38 258.75ZM621.88 258.75 L624.38 256.25 L626.88 258.75 L626.88 266.25 L621.88 266.25ZM631.88 241.88 L670 249.38M636.25 239.38 L672.5 245M683.75 236.25 L683.75 300.62M688.12 236.25 L688.12 300.62M688.12 236.25 L723.75 236.25M688.12 241.25 L751.25 241.25M751.25 241.25 L751.25 251.25M675 270 L707.5 270M675 274.38 L706.25 274.38M675 270 C675.21 270.52 675.00 272.33 676.25 273.12 C677.50 273.91 681.46 274.48 682.5 274.75M645 297.5 L705 281.25M675 295 L707.5 288.75M661.25 300.62 A5.625 5.625 0 0 1 672.5 300.62M662.12 300.62 A4.75 4.75 0 0 1 671.62 300.62M704.37 277.5 a18.75 18.75 0 1 0 37.5 0 a18.75 18.75 0 1 0 -37.5 0ZM708.745 277.5 a14.375 14.375 0 1 0 28.75 0 a14.375 14.375 0 1 0 -28.75 0ZM705 277.5 L706.25 295 L770 295M706.25 296.25 L770 296.25M705 292.5 L720 277.5M688.75 277.5 L716.88 277.5M729.38 275 L738.75 275M729.38 280 L738.75 280M738.75 285 L738.75 295M748.75 285 L748.75 295M741.88 267.5 C742.09 266.04 742.18 261.25 743.12 258.75 C744.06 256.25 745.94 253.96 747.5 252.5 C749.06 251.04 750.83 250.62 752.5 250 C754.17 249.38 756.67 248.96 757.5 248.75M746.25 270 C746.36 268.75 746.25 264.79 746.88 262.5 C747.50 260.21 748.75 257.92 750 256.25 C751.25 254.58 753.65 253.12 754.38 252.5M752.5 251.25 L762.5 236.25M751.25 270 L770 270"/>
<path class="b" d="M620 277.5 L663.75 277.5M620 278.25 L663.12 278.25M631.88 238.12 L686.25 247.75M643.75 241.14 L643.75 245.14M658.75 243.69 L658.75 247.69M675 246.46 L675 250.46M670.62 251.25 L675 261.88 L688.12 263.12M678.63 255 H681.37 A1.75 1.75 0 0 1 683.12 256.75 V258.25 A1.75 1.75 0 0 1 681.37 260 H678.63 A1.75 1.75 0 0 1 676.88 258.25 V256.75 A1.75 1.75 0 0 1 678.63 255ZM692.5 250 L691.25 265M711.25 268.75 L716.88 264.38M745 266.25 C745.21 265.00 745.00 261.04 746.25 258.75 C747.50 256.46 751.46 253.54 752.5 252.5"/>
<path class="f" d="M623.75 272.5 L635 272.5 L635 273.75 L623.75 273.75ZM669.37 268.12 a1.25 1.25 0 1 1 2.5 0 a1.25 1.25 0 1 1 -2.5 0ZM626.88 236.25 L632.5 236.25 L632.5 242.5 L626.88 242.5ZM628 242.5 L630 242.5 L630 266.25 L628 266.25ZM623.5 263.12 a1.5 1.5 0 1 1 3 0 a1.5 1.5 0 1 1 -3 0ZM670 247.75 L688.12 247.75 L688.12 252.5 L673.75 251.25ZM682.5 252.5 L688.12 252.5 L688.12 263.75 L682.5 263.75ZM684.12 236.5 a1.5 1.5 0 1 1 3 0 a1.5 1.5 0 1 1 -3 0ZM683.87 263.12 a1.75 1.75 0 1 1 3.5 0 a1.75 1.75 0 1 1 -3.5 0ZM684.12 289.38 a1.5 1.5 0 1 1 3 0 a1.5 1.5 0 1 1 -3 0ZM716.62 277.5 a6.5 6.5 0 1 1 13 0 a6.5 6.5 0 1 1 -13 0ZM737.25 278.75 a6.5 6.5 0 1 1 13 0 a6.5 6.5 0 1 1 -13 0ZM737.5 273.75 L740 270 L745 270.62 L746.25 273.75ZM751.25 270.62 L755.62 271.88 L756.25 285 L754.38 290 L751.88 288.75 L750.62 277.5ZM751.25 252.25 a1.25 1.25 0 1 1 2.5 0 a1.25 1.25 0 1 1 -2.5 0ZM754.38 263.12 L770 263.12 L770 270 L754.38 270Z"/>
<path class="w" d="M719.62 277.5 a3.5 3.5 0 1 1 7 0 a3.5 3.5 0 1 1 -7 0ZM741 278.75 a2.75 2.75 0 1 1 5.5 0 a2.75 2.75 0 1 1 -5.5 0ZM757.5 264.38 L761.25 264.38 L761.25 268.12 L757.5 268.12ZM763.75 264.38 L766.88 264.38 L766.88 268.12 L763.75 268.12Z"/>
<path class="f" d="M721.62 277.5 a1.5 1.5 0 1 1 3 0 a1.5 1.5 0 1 1 -3 0ZM742.5 278.75 a1.25 1.25 0 1 1 2.5 0 a1.25 1.25 0 1 1 -2.5 0Z"/>

<path d="M722.505 227.5 a14.375 14.375 0 1 0 28.75 0 a14.375 14.375 0 1 0 -28.75 0ZM736.88 212.5 L736.88 222.5M757.505 230.62 a14.375 14.375 0 1 0 28.75 0 a14.375 14.375 0 1 0 -28.75 0ZM771.88 215.62 L771.88 225.62M755.62 230.62 L788.12 230.62M720 236.25 L753.75 236.25 L755.62 241M720 241 L820 241M762.5 241 L763.75 236.5 L777.5 236.5 L777.5 295.62M771.25 236.5 L771.25 255M771.25 255 L760 255 L760 260M727.5 233.75 L736.88 231.25M736.88 231.25 L746.88 234M774.38 245.62 L777.12 245.62 L777.12 248.38 L774.38 248.38ZM777.5 242.5 L784.38 242.5 L784.38 250.62 L779.38 250.62M779.38 250.62 C779.73 251.97 781.29 255.83 781.5 258.75 C781.71 261.67 780.77 266.56 780.62 268.12M780.62 211.88 L820 211.88M802.25 200 L802.25 300M820 200 L820 300M777.5 270.62 L820 270.62M777.5 287.5 L780.62 295.62M720 295.62 L780.62 295.62M720 296.88 L802.25 296.88M751.25 241.25 L751.25 247.5M743.75 241.25 L743.75 243.75M738.75 286.25 L738.75 295.62M749.38 286.25 L749.38 295.62"/>
<path class="b" d="M746.25 218.12 L746.25 233.12M781.25 221.25 L781.25 236.25M755.62 261.88 C756.56 261.36 759.17 258.75 761.25 258.75 C763.33 258.75 766.98 261.36 768.12 261.88M753.75 269.75 L778.75 269.75"/>
<path class="f" d="M732.13 227.5 a4.75 4.75 0 1 1 9.5 0 a4.75 4.75 0 1 1 -9.5 0ZM741.88 223.75 L747.5 223.12 L747.88 230.62 L742.12 231.5ZM731.25 230.62 L743.12 230.62 L743.75 233.5 L730.62 233.5ZM767.13 230.62 a4.75 4.75 0 1 1 9.5 0 a4.75 4.75 0 1 1 -9.5 0ZM776.88 226.88 L782.5 226.25 L782.88 233.75 L777.12 234.62ZM766.25 233.75 L778.12 233.75 L778.75 236.62 L765.62 236.62ZM764.38 253.12 L768.12 253.12 L768.12 254.88 L764.38 254.88ZM754.38 261.88 L768.12 261.88 L768.12 269.38 L754.38 269.38Z"/>
<path class="w" d="M734.63 227.5 a2.25 2.25 0 1 1 4.5 0 a2.25 2.25 0 1 1 -4.5 0ZM769.63 230.62 a2.25 2.25 0 1 1 4.5 0 a2.25 2.25 0 1 1 -4.5 0Z"/>
<path class="f" d="M735.88 227.5 a1 1 0 1 1 2 0 a1 1 0 1 1 -2 0ZM770.88 230.62 a1 1 0 1 1 2 0 a1 1 0 1 1 -2 0Z"/>
</g>
<g id="p_24_ls_engine">
<path class="g" d="M690.62 348.75 L695.62 348.75 L695.62 363.75 L690.62 363.75Z"/>
<path d="M696.25 365 L696.25 337.5 L700 332.5 L755 332.5 L757.5 337.5 L757.5 365M700.62 342.5 L756.25 342.5M700.62 345.62 L756.25 345.62M696.38 356.88 L696.38 360.62M701.12 356.88 L701.12 360.62M698.75 355 L698.75 360M702.21 356.88 L702.21 360.62M706.96 356.88 L706.96 360.62M704.59 355 L704.59 360M708.05 356.88 L708.05 360.62M712.8 356.88 L712.8 360.62M710.42 355 L710.42 360M713.89 356.88 L713.89 360.62M718.64 356.88 L718.64 360.62M716.26 355 L716.26 360M719.73 356.88 L719.73 360.62M724.48 356.88 L724.48 360.62M722.1 355 L722.1 360M725.56 356.88 L725.56 360.62M730.31 356.88 L730.31 360.62M727.94 355 L727.94 360M731.4 356.88 L731.4 360.62M736.15 356.88 L736.15 360.62M733.77 355 L733.77 360M737.24 356.88 L737.24 360.62M741.99 356.88 L741.99 360.62M739.61 355 L739.61 360M743.08 356.88 L743.08 360.62M747.83 356.88 L747.83 360.62M745.45 355 L745.45 360M748.91 356.88 L748.91 360.62M753.66 356.88 L753.66 360.62M751.29 355 L751.29 360M690.62 348.75 L695.62 348.75 L695.62 363.75 L690.62 363.75ZM691.88 348.75 L691.88 363.75M693.12 348.75 L693.12 363.75M694.38 348.75 L694.38 363.75M693.75 365 L760 365 L760 371.25 L693.75 371.25ZM693.75 368.12 L760 368.12M696.5 340 L699.25 340 L699.25 346.88 L696.5 346.88ZM758.5 325.62 L766 325.62 L766 328.12 L758.5 328.12ZM775 353.12 L780.62 353.12 L780.62 362.88 L775 362.88ZM790.62 366.88 L796.88 366.88 L796.88 374.38 L790.62 374.38ZM780.62 371.88 L803.12 371.88M760 371.88 L767.5 371.88"/>
<path class="b" d="M698.75 328.12 L698.75 347.5M697.25 327.88 L700.62 327.88M695.62 351.25 L757.5 351.25M696.375 356.88 a2.375 2.375 0 1 0 4.75 0 a2.375 2.375 0 1 0 -4.75 0ZM702.215 356.88 a2.375 2.375 0 1 0 4.75 0 a2.375 2.375 0 1 0 -4.75 0ZM708.045 356.88 a2.375 2.375 0 1 0 4.75 0 a2.375 2.375 0 1 0 -4.75 0ZM713.885 356.88 a2.375 2.375 0 1 0 4.75 0 a2.375 2.375 0 1 0 -4.75 0ZM719.725 356.88 a2.375 2.375 0 1 0 4.75 0 a2.375 2.375 0 1 0 -4.75 0ZM725.565 356.88 a2.375 2.375 0 1 0 4.75 0 a2.375 2.375 0 1 0 -4.75 0ZM731.395 356.88 a2.375 2.375 0 1 0 4.75 0 a2.375 2.375 0 1 0 -4.75 0ZM737.235 356.88 a2.375 2.375 0 1 0 4.75 0 a2.375 2.375 0 1 0 -4.75 0ZM743.075 356.88 a2.375 2.375 0 1 0 4.75 0 a2.375 2.375 0 1 0 -4.75 0ZM748.915 356.88 a2.375 2.375 0 1 0 4.75 0 a2.375 2.375 0 1 0 -4.75 0ZM695 361 L758.12 361M695 364 L758.12 364M758.5 334.38 a2.75 2.75 0 1 0 5.5 0 a2.75 2.75 0 1 0 -5.5 0ZM767.5 333.75 C768.12 334.79 770.52 337.92 771.25 340 C771.98 342.08 772.50 344.58 771.88 346.25 C771.25 347.92 769.06 349.58 767.5 350 C765.94 350.42 763.33 348.96 762.5 348.75M788.75 351.25 L788.75 355M791.62 351.25 L791.62 355M786.875 358.5 a4.375 4.375 0 1 0 8.75 0 a4.375 4.375 0 1 0 -8.75 0ZM767.5 357.5 L771.88 357.5"/>
<path class="f" d="M702.5 343.38 L703.5 343.38 L703.5 344.62 L702.5 344.62ZM704.25 343.38 L705.25 343.38 L705.25 344.62 L704.25 344.62ZM706 343.38 L707 343.38 L707 344.62 L706 344.62ZM707.75 343.38 L708.75 343.38 L708.75 344.62 L707.75 344.62ZM709.5 343.38 L710.5 343.38 L710.5 344.62 L709.5 344.62ZM711.25 343.38 L712.25 343.38 L712.25 344.62 L711.25 344.62ZM713 343.38 L714 343.38 L714 344.62 L713 344.62ZM714.75 343.38 L715.75 343.38 L715.75 344.62 L714.75 344.62ZM716.5 343.38 L717.5 343.38 L717.5 344.62 L716.5 344.62ZM718.25 343.38 L719.25 343.38 L719.25 344.62 L718.25 344.62ZM720 343.38 L721 343.38 L721 344.62 L720 344.62ZM721.75 343.38 L722.75 343.38 L722.75 344.62 L721.75 344.62ZM723.5 343.38 L724.5 343.38 L724.5 344.62 L723.5 344.62ZM725.25 343.38 L726.25 343.38 L726.25 344.62 L725.25 344.62ZM727 343.38 L728 343.38 L728 344.62 L727 344.62ZM728.75 343.38 L729.75 343.38 L729.75 344.62 L728.75 344.62ZM730.5 343.38 L731.5 343.38 L731.5 344.62 L730.5 344.62ZM732.25 343.38 L733.25 343.38 L733.25 344.62 L732.25 344.62ZM734 343.38 L735 343.38 L735 344.62 L734 344.62ZM735.75 343.38 L736.75 343.38 L736.75 344.62 L735.75 344.62ZM737.5 343.38 L738.5 343.38 L738.5 344.62 L737.5 344.62ZM739.25 343.38 L740.25 343.38 L740.25 344.62 L739.25 344.62ZM741 343.38 L742 343.38 L742 344.62 L741 344.62ZM742.75 343.38 L743.75 343.38 L743.75 344.62 L742.75 344.62ZM744.5 343.38 L745.5 343.38 L745.5 344.62 L744.5 344.62ZM746.25 343.38 L747.25 343.38 L747.25 344.62 L746.25 344.62ZM748 343.38 L749 343.38 L749 344.62 L748 344.62ZM749.75 343.38 L750.75 343.38 L750.75 344.62 L749.75 344.62ZM751.5 343.38 L752.5 343.38 L752.5 344.62 L751.5 344.62ZM753.25 343.38 L754.25 343.38 L754.25 344.62 L753.25 344.62ZM755 343.38 L756 343.38 L756 344.62 L755 344.62ZM696.25 361.75 L697.12 361.75 L697.12 363.25 L696.25 363.25ZM697.75 361.75 L698.62 361.75 L698.62 363.25 L697.75 363.25ZM699.25 361.75 L700.12 361.75 L700.12 363.25 L699.25 363.25ZM700.75 361.75 L701.62 361.75 L701.62 363.25 L700.75 363.25ZM702.25 361.75 L703.12 361.75 L703.12 363.25 L702.25 363.25ZM703.75 361.75 L704.62 361.75 L704.62 363.25 L703.75 363.25ZM705.25 361.75 L706.12 361.75 L706.12 363.25 L705.25 363.25ZM706.75 361.75 L707.62 361.75 L707.62 363.25 L706.75 363.25ZM708.25 361.75 L709.12 361.75 L709.12 363.25 L708.25 363.25ZM709.75 361.75 L710.62 361.75 L710.62 363.25 L709.75 363.25ZM711.25 361.75 L712.12 361.75 L712.12 363.25 L711.25 363.25ZM712.75 361.75 L713.62 361.75 L713.62 363.25 L712.75 363.25ZM714.25 361.75 L715.12 361.75 L715.12 363.25 L714.25 363.25ZM715.75 361.75 L716.62 361.75 L716.62 363.25 L715.75 363.25ZM717.25 361.75 L718.12 361.75 L718.12 363.25 L717.25 363.25ZM718.75 361.75 L719.62 361.75 L719.62 363.25 L718.75 363.25ZM720.25 361.75 L721.12 361.75 L721.12 363.25 L720.25 363.25ZM721.75 361.75 L722.62 361.75 L722.62 363.25 L721.75 363.25ZM723.25 361.75 L724.12 361.75 L724.12 363.25 L723.25 363.25ZM724.75 361.75 L725.62 361.75 L725.62 363.25 L724.75 363.25ZM726.25 361.75 L727.12 361.75 L727.12 363.25 L726.25 363.25ZM727.75 361.75 L728.62 361.75 L728.62 363.25 L727.75 363.25ZM729.25 361.75 L730.12 361.75 L730.12 363.25 L729.25 363.25ZM730.75 361.75 L731.62 361.75 L731.62 363.25 L730.75 363.25ZM732.25 361.75 L733.12 361.75 L733.12 363.25 L732.25 363.25ZM733.75 361.75 L734.62 361.75 L734.62 363.25 L733.75 363.25ZM735.25 361.75 L736.12 361.75 L736.12 363.25 L735.25 363.25ZM736.75 361.75 L737.62 361.75 L737.62 363.25 L736.75 363.25ZM738.25 361.75 L739.12 361.75 L739.12 363.25 L738.25 363.25ZM739.75 361.75 L740.62 361.75 L740.62 363.25 L739.75 363.25ZM741.25 361.75 L742.12 361.75 L742.12 363.25 L741.25 363.25ZM742.75 361.75 L743.62 361.75 L743.62 363.25 L742.75 363.25ZM744.25 361.75 L745.12 361.75 L745.12 363.25 L744.25 363.25ZM745.75 361.75 L746.62 361.75 L746.62 363.25 L745.75 363.25ZM747.25 361.75 L748.12 361.75 L748.12 363.25 L747.25 363.25ZM748.75 361.75 L749.62 361.75 L749.62 363.25 L748.75 363.25ZM750.25 361.75 L751.12 361.75 L751.12 363.25 L750.25 363.25ZM751.75 361.75 L752.62 361.75 L752.62 363.25 L751.75 363.25ZM753.25 361.75 L754.12 361.75 L754.12 363.25 L753.25 363.25ZM754.75 361.75 L755.62 361.75 L755.62 363.25 L754.75 363.25ZM756.25 361.75 L757.12 361.75 L757.12 363.25 L756.25 363.25ZM692.5 346.25 L695 346.25 L695 349.38 L692.5 349.38ZM755.62 327.5 L766.25 327.5 L767.5 332.5 L766.25 337.5 L760 339.38 L756.25 335ZM758.12 339.38 L763.12 339.38 L763.12 364.38 L758.12 364.38ZM755 345 L758.75 345 L758.75 351.25 L755 351.25ZM762.5 350 L766.88 350 L766.88 362.5 L762.5 362.5ZM750.375 329 a1.125 1.125 0 1 1 2.25 0 a1.125 1.125 0 1 1 -2.25 0ZM771.88 356.25 L775 355.62 L775.62 353.75 L780 353.5 L780.62 355.62 L786.25 356.88 L786.25 358.75 L780.62 359.38 L780 362.5 L775.62 362.5 L775 358.75 L771.88 358.5ZM787.5 350 L792.75 350 L792.75 351.25 L787.5 351.25ZM786.88 355 L790 354.38 L792.5 360 L796.25 363.75 L791.25 365 L788.12 361.25ZM791.25 364.38 L796.25 364.38 L796.25 366.88 L791.25 366.88ZM790 368.75 L797.5 368.75 L797.5 370.25 L790 370.25ZM791 371.88 L796.5 371.88 L796.5 373.12 L791 373.12Z"/>
<text x="710.6" y="338.9" font-size="2.6" font-weight="bold" textLength="32" lengthAdjust="spacingAndGlyphs" style="fill:#111">ULSTEIN BERGEN BRM-8</text>

</g>
<g id="p_25_ls_pump">
<path style="fill:#fff;stroke:none" d="M473.12 348.75 L500 348.75 L500 367.5 L473.12 367.5Z"/>
<path d="M481.25 366.25 L481.25 375M490 366.25 L490 375"/>
<path class="b" d="M471.88 360 L471.88 371.25M479.13 365.62 H492.75 A2.25 2.25 0 0 1 495 367.87 V372.75 A2.25 2.25 0 0 1 492.75 375 H479.13 A2.25 2.25 0 0 1 476.88 372.75 V367.87 A2.25 2.25 0 0 1 479.13 365.62Z"/>
<path class="f" d="M473.75 350.38 L498.75 350.38 L498.75 352.12 L473.75 352.12ZM492.5 349.75 a1.5 1.5 0 1 1 3 0 a1.5 1.5 0 1 1 -3 0ZM496.5 351.25 a1 1 0 1 1 2 0 a1 1 0 1 1 -2 0ZM475 352.5 L496.25 352.5 L496.25 365 L487.5 366.25 L475 365ZM470.25 361.5 L474 361.5 L474 369.75 L470.25 369.75ZM492.25 348.75 L495.5 348.75 L495.5 370 L492.25 370ZM496.25 355 L501.25 355 L501.25 356.75 L496.25 356.75ZM496.25 357.5 L500 357.5 L500 358.75 L496.25 358.75ZM474.5 352.5 L476 352.5 L476 360 L474.5 360Z"/>
<path class="w" d="M479 358.12 L486.25 358.12 L486.25 363.12 L479 363.12ZM487.5 355 L491.25 355 L491.25 357.75 L487.5 357.75ZM476.5 353.75 L480 353.75 L480 356 L476.5 356Z"/>
<path class="f" d="M480.875 360.62 a0.625 0.625 0 1 1 1.25 0 a0.625 0.625 0 1 1 -1.25 0Z"/>
</g>
<g id="p_30_md_aft">
<path style="stroke:#444;stroke-width:.85" d="M292.5 427.8H683.1M292.5 431.23H683.1M292.5 434.66H683.1M292.5 438.09H683.1M292.5 441.52H683.1M292.5 444.95H683.1M292.5 448.38H683.1M292.5 451.81H683.1M292.5 455.24H683.1M292.5 458.67H683.1M292.5 462.1H683.1M467.5 465.53H683.1M467.5 468.96H683.1M467.5 472.39H683.1M467.5 475.82H683.1M467.5 479.25H683.1M467.5 482.68H683.1M467.5 486.11H683.1M467.5 489.54H683.1M467.5 492.97H683.1M467.5 496.4H683.1M467.5 499.83H683.1M467.5 503.26H683.1M467.5 506.69H683.1M467.5 510.12H683.1M467.5 513.55H683.1M467.5 516.98H683.1M467.5 520.41H683.1M467.5 523.84H683.1M467.5 527.27H683.1M292.5 530.7H683.1M292.5 534.13H683.1M292.5 537.56H683.1M292.5 540.99H683.1M292.5 544.42H683.1M292.5 547.85H683.1M292.5 551.28H683.1M292.5 554.71H683.1M292.5 558.14H683.1M292.5 561.57H683.1M292.5 565H683.1"/>
<path d="M262 409.75 C260.00 410.12 253.25 410.29 250 412 C246.75 413.71 244.21 416.67 242.5 420 C240.79 423.33 240.21 430.00 239.75 432M239.75 432 L239.75 560.8M262 583.05 C260.00 582.68 253.25 582.55 250 580.85 C246.75 579.15 244.21 576.18 242.5 572.85 C240.79 569.52 240.21 562.85 239.75 560.85M239.75 462.5 L260 462.5M239.75 530.2 L260 530.2M241 462.5 L241 530.2M268.75 416.25 C267.92 417.71 264.58 419.38 263.75 425 C262.92 430.62 264.38 442.50 263.75 450 C263.12 457.50 260.83 462.33 260 470 C259.17 477.67 258.96 491.67 258.75 496M268.75 576.55 C267.92 575.09 264.58 573.42 263.75 567.8 C262.92 562.17 264.38 550.30 263.75 542.8 C263.12 535.30 260.83 530.60 260 522.8 C259.17 515.00 258.96 500.47 258.75 496M290 411.3 L683 411.3M290 581.55 L683 581.55M287.5 422.6 L683 422.6M287.5 570.2 L683 570.2M467.5 462.4 L467.5 530.4M324.2 424.4 L324.2 462.4M324.2 530.4 L324.2 568.4M325.8 424.4 L325.8 462.4M325.8 530.4 L325.8 568.4M355.45 424.4 L355.45 462.4M355.45 530.4 L355.45 568.4M357.05 424.4 L357.05 462.4M357.05 530.4 L357.05 568.4M386.7 424.4 L386.7 462.4M386.7 530.4 L386.7 568.4M388.3 424.4 L388.3 462.4M388.3 530.4 L388.3 568.4M427.3 424.4 L427.3 462.4M427.3 530.4 L427.3 568.4M428.9 424.4 L428.9 462.4M428.9 530.4 L428.9 568.4M467.3 424.4 L467.3 568.4M468.9 424.4 L468.9 568.4M507.95 424.4 L507.95 568.4M509.55 424.4 L509.55 568.4M548.2 424.4 L548.2 568.4M549.8 424.4 L549.8 568.4M588.6 424.4 L588.6 568.4M590.2 424.4 L590.2 568.4M628.6 424.4 L628.6 568.4M630.2 424.4 L630.2 568.4M655.45 424.4 L655.45 568.4M657.05 424.4 L657.05 568.4M285.6 480.8 a1.9 1.9 0 1 0 3.8 0 a1.9 1.9 0 1 0 -3.8 0ZM285.6 511.8 a1.9 1.9 0 1 0 3.8 0 a1.9 1.9 0 1 0 -3.8 0Z"/>
<path class="b" d="M262 409.75 L760 409.75M262 583.05 L760 583.05M287.5 424.4 L683.1 424.4M287.5 568.4 L683.1 568.4M292.5 424.4 L292.5 462.4M292.5 530.4 L292.5 568.4M292.5 462.4 L467.5 462.4M292.5 530.4 L467.5 530.4M683.1 424 L683.1 568.8"/>
<rect x="354.6" y="459.95" width="3.3" height="3.3" style="fill:#fff;stroke:#222;stroke-width:1.3"/>
<rect x="354.6" y="529.55" width="3.3" height="3.3" style="fill:#fff;stroke:#222;stroke-width:1.3"/>
<rect x="385.85" y="459.95" width="3.3" height="3.3" style="fill:#fff;stroke:#222;stroke-width:1.3"/>
<rect x="385.85" y="529.55" width="3.3" height="3.3" style="fill:#fff;stroke:#222;stroke-width:1.3"/>
<rect x="426.45" y="459.95" width="3.3" height="3.3" style="fill:#fff;stroke:#222;stroke-width:1.3"/>
<rect x="426.45" y="529.55" width="3.3" height="3.3" style="fill:#fff;stroke:#222;stroke-width:1.3"/>
<rect x="466.45" y="459.95" width="3.3" height="3.3" style="fill:#fff;stroke:#222;stroke-width:1.3"/>
<rect x="466.45" y="529.55" width="3.3" height="3.3" style="fill:#fff;stroke:#222;stroke-width:1.3"/>
<rect x="507.1" y="459.95" width="3.3" height="3.3" style="fill:#fff;stroke:#222;stroke-width:1.3"/>
<rect x="507.1" y="529.55" width="3.3" height="3.3" style="fill:#fff;stroke:#222;stroke-width:1.3"/>
<rect x="547.35" y="459.95" width="3.3" height="3.3" style="fill:#fff;stroke:#222;stroke-width:1.3"/>
<rect x="547.35" y="529.55" width="3.3" height="3.3" style="fill:#fff;stroke:#222;stroke-width:1.3"/>
<rect x="587.75" y="459.95" width="3.3" height="3.3" style="fill:#fff;stroke:#222;stroke-width:1.3"/>
<rect x="587.75" y="529.55" width="3.3" height="3.3" style="fill:#fff;stroke:#222;stroke-width:1.3"/>
<rect x="627.75" y="459.95" width="3.3" height="3.3" style="fill:#fff;stroke:#222;stroke-width:1.3"/>
<rect x="627.75" y="529.55" width="3.3" height="3.3" style="fill:#fff;stroke:#222;stroke-width:1.3"/>
<rect x="444.8" y="478.6" width="9.4" height="8.8" style="fill:#fff;stroke:#222;stroke-width:1.2"/>
<rect x="446.5" y="480.2" width="6" height="5.6" style="fill:none;stroke:#222;stroke-width:.8"/>
<rect x="495.8" y="478.6" width="9.4" height="8.8" style="fill:#fff;stroke:#222;stroke-width:1.2"/>
<rect x="497.5" y="480.2" width="6" height="5.6" style="fill:none;stroke:#222;stroke-width:.8"/>
<rect x="546.55" y="478.6" width="9.4" height="8.8" style="fill:#fff;stroke:#222;stroke-width:1.2"/>
<rect x="548.25" y="480.2" width="6" height="5.6" style="fill:none;stroke:#222;stroke-width:.8"/>
<rect x="597.5" y="478.6" width="9.4" height="8.8" style="fill:#fff;stroke:#222;stroke-width:1.2"/>
<rect x="599.2" y="480.2" width="6" height="5.6" style="fill:none;stroke:#222;stroke-width:.8"/>
<rect x="522.5" y="488.4" width="7" height="15.6" style="fill:#fff;stroke:#222;stroke-width:1.2"/>
<rect x="524.3" y="490.4" width="3.4" height="3.2" style="fill:none;stroke:#222;stroke-width:.8"/>
<rect x="524.3" y="494.9" width="3.4" height="3.2" style="fill:none;stroke:#222;stroke-width:.8"/>
<rect x="524.3" y="499.4" width="3.4" height="3.2" style="fill:none;stroke:#222;stroke-width:.8"/>
<rect x="647.5" y="489.6" width="19.2" height="13.4" style="fill:#fff;stroke:#222;stroke-width:1.1"/>
<path style="fill:#fff;stroke:#333;stroke-width:1.9;stroke-linejoin:round" d="M658.8 461 l3.4 -5.2 h13.6 l3.4 5.2 l-3.4 5.2 h-13.6z"/>
<path style="fill:#fff;stroke:#333;stroke-width:1.9;stroke-linejoin:round" d="M658.8 531.8 l3.4 -5.2 h13.6 l3.4 5.2 l-3.4 5.2 h-13.6z"/>
<rect x="271.9" y="469" width="19.4" height="53.5" style="fill:#fff;stroke:#222;stroke-width:1.2"/>
<g transform="translate(279 476.3) rotate(-32) scale(1.25)"><path d="M-5 0 a3.6 3.6 0 0 1 5 -3.2 l4.5 1.8 a1.6 1.6 0 0 1 0 2.8 l-4.5 1.8 a3.6 3.6 0 0 1 -5 -3.2z"/><path class="b" d="M-3 0 a2 2 0 0 1 3 -1.7 l2.5 1 a.8 .8 0 0 1 0 1.4 l-2.5 1 a2 2 0 0 1 -3 -1.7z"/></g>
<g transform="translate(279 489.6) rotate(-32) scale(1.25)"><path d="M-5 0 a3.6 3.6 0 0 1 5 -3.2 l4.5 1.8 a1.6 1.6 0 0 1 0 2.8 l-4.5 1.8 a3.6 3.6 0 0 1 -5 -3.2z"/><path class="b" d="M-3 0 a2 2 0 0 1 3 -1.7 l2.5 1 a.8 .8 0 0 1 0 1.4 l-2.5 1 a2 2 0 0 1 -3 -1.7z"/></g>
<g transform="translate(279 502.6) rotate(-32) scale(1.25)"><path d="M-5 0 a3.6 3.6 0 0 1 5 -3.2 l4.5 1.8 a1.6 1.6 0 0 1 0 2.8 l-4.5 1.8 a3.6 3.6 0 0 1 -5 -3.2z"/><path class="b" d="M-3 0 a2 2 0 0 1 3 -1.7 l2.5 1 a.8 .8 0 0 1 0 1.4 l-2.5 1 a2 2 0 0 1 -3 -1.7z"/></g>
<g transform="translate(279 515.6) rotate(-32) scale(1.25)"><path d="M-5 0 a3.6 3.6 0 0 1 5 -3.2 l4.5 1.8 a1.6 1.6 0 0 1 0 2.8 l-4.5 1.8 a3.6 3.6 0 0 1 -5 -3.2z"/><path class="b" d="M-3 0 a2 2 0 0 1 3 -1.7 l2.5 1 a.8 .8 0 0 1 0 1.4 l-2.5 1 a2 2 0 0 1 -3 -1.7z"/></g>
<path d="M266.5 418.75 a4.75 3.75 0 1 0 9.5 0 a4.75 3.75 0 1 0 -9.5 0ZM272 418.75 a1.75 1.75 0 1 0 3.5 0 a1.75 1.75 0 1 0 -3.5 0ZM268.75 413.75 L287.5 413.75M268.75 423.75 L287.5 423.75M302.88 420 a1.5 1.5 0 1 0 3 0 a1.5 1.5 0 1 0 -3 0ZM311.25 410.62 L311.25 423.75M287.5 425 L380 425M330 411.25 L330 425M343.12 411.25 L343.12 425M351.25 411.25 L351.25 425M358.75 411.25 L358.75 425M343.12 420.62 L351.25 420.62M330.62 422.25 A3.75 3.75 0 0 1 338.12 422.25M330.62 422.25 L338.12 422.25M361.25 422.25 A3.75 3.75 0 0 1 368.75 422.25M361.25 422.25 L368.75 422.25M358.75 412.5 L380 412.5M266.5 574.05 a4.75 3.75 0 1 0 9.5 0 a4.75 3.75 0 1 0 -9.5 0ZM272 574.05 a1.75 1.75 0 1 0 3.5 0 a1.75 1.75 0 1 0 -3.5 0ZM268.75 579.05 L287.5 579.05M268.75 569.05 L287.5 569.05M302.88 572.8 a1.5 1.5 0 1 0 3 0 a1.5 1.5 0 1 0 -3 0ZM311.25 582.17 L311.25 569.05M287.5 567.8 L380 567.8M330 581.55 L330 567.8M343.12 581.55 L343.12 567.8M351.25 581.55 L351.25 567.8M358.75 581.55 L358.75 567.8M343.12 572.17 L351.25 572.17M338.12 570.55 A3.75 3.75 0 0 1 330.62 570.55M330.62 570.55 L338.12 570.55M368.75 570.55 A3.75 3.75 0 0 1 361.25 570.55M361.25 570.55 L368.75 570.55M358.75 580.3 L380 580.3"/>
<path class="b" d="M277.63 418.75 a4.25 4.25 0 1 0 8.5 0 a4.25 4.25 0 1 0 -8.5 0ZM278.38 418.75 a3.5 3.5 0 1 0 7 0 a3.5 3.5 0 1 0 -7 0ZM279.13 418.75 a2.75 2.75 0 1 0 5.5 0 a2.75 2.75 0 1 0 -5.5 0ZM288.12 411.25 L293.75 411.25 L293.75 423.75 L288.12 423.75ZM299.38 416.25 L309.38 416.25 L309.38 423.75 L299.38 423.75ZM260.5 431.5 a1.75 1.75 0 1 0 3.5 0 a1.75 1.75 0 1 0 -3.5 0ZM277.63 574.05 a4.25 4.25 0 1 0 8.5 0 a4.25 4.25 0 1 0 -8.5 0ZM278.38 574.05 a3.5 3.5 0 1 0 7 0 a3.5 3.5 0 1 0 -7 0ZM279.13 574.05 a2.75 2.75 0 1 0 5.5 0 a2.75 2.75 0 1 0 -5.5 0ZM288.12 569.05 L293.75 569.05 L293.75 581.55 L288.12 581.55ZM299.38 569.05 L309.38 569.05 L309.38 576.55 L299.38 576.55ZM260.5 561.3 a1.75 1.75 0 1 0 3.5 0 a1.75 1.75 0 1 0 -3.5 0Z"/>
<path class="f" d="M280.755 418.75 a1.125 1.125 0 1 1 2.25 0 a1.125 1.125 0 1 1 -2.25 0ZM280.755 574.05 a1.125 1.125 0 1 1 2.25 0 a1.125 1.125 0 1 1 -2.25 0Z"/>
<path style="fill:#fff;stroke:none" d="M357.5 429H464V436H369V434.8H357.5Z"/>
<path d="M370 412.5 L467.5 412.5M415.62 412.5 L433.75 412.5 L433.75 421.88 L415.62 421.88ZM418.12 412.5 L418.12 421.88M435.62 411.25 L456.25 423.12M438.12 411.25 L457.5 422.25M438.38 421.5 A3.5 3.5 0 0 1 445.38 421.5M489.75 411.75 a1.25 1.25 0 1 0 2.5 0 a1.25 1.25 0 1 0 -2.5 0ZM499.37 411.75 a1.25 1.25 0 1 0 2.5 0 a1.25 1.25 0 1 0 -2.5 0ZM494.75 410.5 H497.12 A1 1 0 0 1 498.12 411.5 V412 A1 1 0 0 1 497.12 413 H494.75 A1 1 0 0 1 493.75 412 V411.5 A1 1 0 0 1 494.75 410.5ZM370 580.3 L467.5 580.3M415.62 570.92 L433.75 570.92 L433.75 580.3 L415.62 580.3ZM418.12 580.3 L418.12 570.92M435.62 581.55 L456.25 569.67M438.12 581.55 L457.5 570.55M445.38 571.3 A3.5 3.5 0 0 1 438.38 571.3M489.75 581.05 a1.25 1.25 0 1 0 2.5 0 a1.25 1.25 0 1 0 -2.5 0ZM499.37 581.05 a1.25 1.25 0 1 0 2.5 0 a1.25 1.25 0 1 0 -2.5 0ZM494.75 579.8 H497.12 A1 1 0 0 1 498.12 580.8 V581.3 A1 1 0 0 1 497.12 582.3 H494.75 A1 1 0 0 1 493.75 581.3 V580.8 A1 1 0 0 1 494.75 579.8ZM357.5 429 L355 431.88 L357.5 435M451.25 429 L457.5 430 L463.75 428.12M451.25 436 L457.5 434 L463.75 436.25M473.25 418.12 a1.5 1.5 0 1 0 3 0 a1.5 1.5 0 1 0 -3 0ZM467.25 431.25 a7.5 7.5 0 1 0 15 0 a7.5 7.5 0 1 0 -15 0ZM468.75 423.75 L468.75 438.75M471.25 423.75 L471.25 438.75M473.75 423.75 L473.75 438.75M476.25 423.75 L476.25 438.75M478.75 423.75 L478.75 438.75M481.25 423.75 L481.25 438.75M465.62 426.88 L484.38 426.88M465.62 431.25 L484.38 431.25M465.62 435.62 L484.38 435.62"/>
<path class="b" d="M410 423.12 L415.62 423.12M457.875 422.75 a1.875 1.875 0 1 0 3.75 0 a1.875 1.875 0 1 0 -3.75 0ZM504.625 422.75 a1.875 1.875 0 1 0 3.75 0 a1.875 1.875 0 1 0 -3.75 0ZM487.12 410 H507.25 A1.5 1.5 0 0 1 508.75 411.5 V412 A1.5 1.5 0 0 1 507.25 413.5 H487.12 A1.5 1.5 0 0 1 485.62 412 V411.5 A1.5 1.5 0 0 1 487.12 410ZM511.88 411.88 L511.88 413.5M515.62 411.88 L515.62 413.5M519.38 411.88 L519.38 413.5M410 569.67 L415.62 569.67M457.875 570.05 a1.875 1.875 0 1 0 3.75 0 a1.875 1.875 0 1 0 -3.75 0ZM504.625 570.05 a1.875 1.875 0 1 0 3.75 0 a1.875 1.875 0 1 0 -3.75 0ZM487.12 579.3 H507.25 A1.5 1.5 0 0 1 508.75 580.8 V581.3 A1.5 1.5 0 0 1 507.25 582.8 H487.12 A1.5 1.5 0 0 1 485.62 581.3 V580.8 A1.5 1.5 0 0 1 487.12 579.3ZM511.88 580.92 L511.88 579.3M515.62 580.92 L515.62 579.3M519.38 580.92 L519.38 579.3M357.5 429 L463.75 429M368.75 435.62 L463.75 436M357.5 435 L368.75 435M406.25 436.25 L435 436.25M467.5 410.62 L483.12 410.62 L483.12 421.88 L467.5 421.88ZM469.62 416.88 a3.5 3.5 0 1 0 7 0 a3.5 3.5 0 1 0 -7 0ZM464.125 431.25 a10.625 10.625 0 1 0 21.25 0 a10.625 10.625 0 1 0 -21.25 0ZM465.375 431.25 a9.375 9.375 0 1 0 18.75 0 a9.375 9.375 0 1 0 -18.75 0Z"/>
<path class="f" d="M378 422.75 a2 2 0 1 1 4 0 a2 2 0 1 1 -4 0ZM378 570.05 a2 2 0 1 1 4 0 a2 2 0 1 1 -4 0ZM357.5 429.38 L368.12 429.38 L368.12 434.62 L357.5 434.62ZM370 436.62 L371.75 436.62 L371.75 437.88 L370 437.88ZM373 436.62 L374.75 436.62 L374.75 437.88 L373 437.88ZM376 436.62 L377.75 436.62 L377.75 437.88 L376 437.88ZM379 436.62 L380.75 436.62 L380.75 437.88 L379 437.88ZM382 436.62 L383.75 436.62 L383.75 437.88 L382 437.88ZM385 436.62 L386.75 436.62 L386.75 437.88 L385 437.88ZM388 436.62 L389.75 436.62 L389.75 437.88 L388 437.88ZM391 436.62 L392.75 436.62 L392.75 437.88 L391 437.88ZM394 436.62 L395.75 436.62 L395.75 437.88 L394 437.88ZM397 436.62 L398.75 436.62 L398.75 437.88 L397 437.88ZM400 436.62 L401.75 436.62 L401.75 437.88 L400 437.88ZM403 436.62 L404.75 436.62 L404.75 437.88 L403 437.88ZM406 436.62 L407.75 436.62 L407.75 437.88 L406 437.88ZM473.25 423.12 a1.5 1.5 0 1 1 3 0 a1.5 1.5 0 1 1 -3 0ZM473.25 439.75 a1.5 1.5 0 1 1 3 0 a1.5 1.5 0 1 1 -3 0ZM478.75 428.12 L481.25 428.12 L481.25 434.38 L478.75 434.38Z"/>
<path d="M465 570 L470.5 570 L470.5 575.5 L465 575.5ZM466.75 572.75 a1 1 0 1 0 2 0 a1 1 0 1 0 -2 0ZM473.75 578.75 L495 570 L500 570M477.5 580.5 L497.5 572.5"/>
<path class="b" d="M462.5 568 L473 568 L473 577.5 L462.5 577.5Z"/>
</g>
<g id="p_31_md_ramp">
<path style="fill:#fff;stroke:none" d="M252.5 531.5H289V527H262.5V522.8H284V531.5H292V565.5H252.5Z"/>
<path style="fill:#fff;stroke:none" d="M289 532 C305 536 316 545 315.5 550 C314 556 300 561 289 564Z"/>
<path d="M261.88 522.75 L285 522.75 L285 530 L261.88 530ZM262.75 522.75 L262.75 530M263.88 522.75 L263.88 530M265 522.75 L265 530M266.12 522.75 L266.12 530M267.25 522.75 L267.25 530M268.38 522.75 L268.38 530M269.5 522.75 L269.5 530M270.62 522.75 L270.62 530M271.75 522.75 L271.75 530M272.88 522.75 L272.88 530M274 522.75 L274 530M275.12 522.75 L275.12 530M276.25 522.75 L276.25 530M277.38 522.75 L277.38 530M278.5 522.75 L278.5 530M279.62 522.75 L279.62 530M280.75 522.75 L280.75 530M281.88 522.75 L281.88 530M283 522.75 L283 530M284.12 522.75 L284.12 530M255 539.38 C256.25 539.25 259.79 538.52 262.5 538.62 C265.21 538.72 267.50 539.94 271.25 540 C275.00 540.06 282.71 539.17 285 539M255 542.5 C256.25 542.38 259.79 541.65 262.5 541.75 C265.21 541.85 267.50 543.06 271.25 543.12 C275.00 543.18 282.71 542.29 285 542.12M255 545.62 C256.25 545.50 259.79 544.77 262.5 544.88 C265.21 544.99 267.50 546.19 271.25 546.25 C275.00 546.31 282.71 545.42 285 545.25M255 548.75 C256.25 548.62 259.79 547.89 262.5 548 C265.21 548.11 267.50 549.32 271.25 549.38 C275.00 549.44 282.71 548.55 285 548.38M255 551.88 C256.25 551.75 259.79 551.02 262.5 551.12 C265.21 551.22 267.50 552.44 271.25 552.5 C275.00 552.56 282.71 551.67 285 551.5M255 555 C256.25 554.88 259.79 554.15 262.5 554.25 C265.21 554.35 267.50 555.56 271.25 555.62 C275.00 555.68 282.71 554.79 285 554.62M286.25 535.62 C288.12 536.04 294.17 536.97 297.5 538.12 C300.83 539.27 304.17 540.73 306.25 542.5 C308.33 544.27 310.21 546.98 310 548.75 C309.79 550.52 307.08 551.87 305 553.12 C302.92 554.37 300.62 555.42 297.5 556.25 C294.38 557.08 288.12 557.81 286.25 558.12M288.12 536.25 L293.75 536.25M288.12 539.38 L293.75 539.38M288.12 542.5 L293.75 542.5M288.12 545.62 L293.75 545.62M288.12 548.75 L293.75 548.75M294.38 540 L305.62 540 L305.62 551.25 L294.38 551.25ZM300 540 L300 551.25M301.88 542.5 L306.88 542.5 L306.88 548.75 L301.88 548.75ZM263.75 565 L270 571.25M271.88 565 L271.88 570"/>
<path class="b" d="M253.12 532.5 L286.25 532.5 L286.25 563.75 L253.12 563.75ZM253.12 535.62 L286.25 535.62M253.12 558.75 L286.25 558.75M272.5 545 L276.25 545M272.5 545 L272.5 548.12M276.25 545 L276.25 548.12M261.25 531.25 L270 534.38M261.25 533.12 L267.5 535M286.25 532.5 C288.54 532.92 295.83 533.54 300 535 C304.17 536.46 308.71 538.96 311.25 541.25 C313.79 543.54 315.46 546.46 315.25 548.75 C315.04 551.04 312.54 553.12 310 555 C307.46 556.88 303.96 558.54 300 560 C296.04 561.46 288.54 563.12 286.25 563.75M286.25 555 C288.54 554.58 295.83 553.54 300 552.5 C304.17 551.46 309.38 549.38 311.25 548.75M288.12 533.12 L293.75 533.12 L293.75 553.12 L288.12 553.12ZM310 537.5 L312.5 539.38M310 558.12 L312.5 560M266.25 561.25 L285 561.25M266.25 562.25 L285 562.25"/>
<path class="f" d="M263.75 529 L271.25 529 L271.25 530.25 L263.75 530.25ZM253.12 532.5 L254.38 532.5 L254.38 563.75 L253.12 563.75ZM285 535.62 L286.5 535.62 L286.5 558.75 L285 558.75ZM288.5 533.75 L289.5 533.75 L289.5 552.5 L288.5 552.5ZM295 546.88 L298.12 546.88 L298.12 550.62 L295 550.62ZM260.5 561.5 a1.75 1.75 0 1 1 3.5 0 a1.75 1.75 0 1 1 -3.5 0ZM253.12 563.75 L289.38 563.75 L289.38 564.75 L253.12 564.75Z"/>
</g>
<g id="p_32_md_mid">
<path style="fill:#fff;stroke:none" d="M583 426.5 H640 C660 428 672 437 674 441.9 C672 447 660 456 640 457.5 H583 C581.5 450 581.5 434 583 426.5Z"/>
<path d="M635 427.25 C637.92 427.71 647.71 428.50 652.5 430 C657.29 431.50 660.94 434.27 663.75 436.25 C666.56 438.23 669.38 440.00 669.38 441.88 C669.38 443.75 666.56 445.52 663.75 447.5 C660.94 449.48 657.29 452.25 652.5 453.75 C647.71 455.25 637.92 456.04 635 456.5M586.25 427.25 L635 427.25M586.25 456.5 L635 456.5M604.38 427.25 L604.38 456.5M606.88 428.12 L621.88 455.62M621.88 428.12 L606.88 455.62M596.25 429.38 L603.75 429.38 L603.75 432.5 L596.25 432.5ZM596.25 451.88 L603.75 451.88 L603.75 455 L596.25 455ZM624.38 434.38 L629.38 434.38 L629.38 441.25 L624.38 441.25ZM630.62 434.38 L636.25 434.38 L636.25 441.25 L630.62 441.25ZM624.38 442.5 L629.38 442.5 L629.38 449.38 L624.38 449.38ZM630.62 444.38 L636.25 444.38 L636.25 449.38 L630.62 449.38ZM651.88 437.5 L658.75 441.88 L651.88 446.25M658.75 441.88 L671.25 441.88M532.12 410.62 L532.12 422.5M534.12 410.62 L534.12 422.5M590.25 410.62 L590.25 422.5M592.25 410.62 L592.25 422.5M648.38 410.62 L648.38 422.5M650.38 410.62 L650.38 422.5M521.88 422.25 A3.75 3.75 0 0 1 529.38 422.25M551.25 422.25 A3.75 3.75 0 0 1 558.75 422.25M573.12 422.25 A3.75 3.75 0 0 1 580.62 422.25M601.88 422.25 A3.75 3.75 0 0 1 609.38 422.25M628.75 411 L636.88 415.62 L645.62 411M636.88 411 L636.88 415.62M532.12 582.17 L532.12 570.3M534.12 582.17 L534.12 570.3M590.25 582.17 L590.25 570.3M592.25 582.17 L592.25 570.3M648.38 582.17 L648.38 570.3M650.38 582.17 L650.38 570.3M529.38 570.55 A3.75 3.75 0 0 1 521.88 570.55M558.75 570.55 A3.75 3.75 0 0 1 551.25 570.55M580.62 570.55 A3.75 3.75 0 0 1 573.12 570.55M609.38 570.55 A3.75 3.75 0 0 1 601.88 570.55M628.75 581.8 L636.88 577.17 L645.62 581.8M636.88 581.8 L636.88 577.17"/>
<path class="b" d="M585 425.62 C584.58 426.35 583.08 427.29 582.5 430 C581.92 432.71 581.50 437.92 581.5 441.88 C581.50 445.84 581.92 451.04 582.5 453.75 C583.08 456.46 584.58 457.39 585 458.12M585 425.62 L635 425.62M585 458.12 L635 458.12M635 425.62 C638.12 426.04 648.54 426.56 653.75 428.12 C658.96 429.68 663.12 432.71 666.25 435 C669.38 437.29 672.50 439.59 672.5 441.88 C672.50 444.17 669.38 446.46 666.25 448.75 C663.12 451.04 658.96 454.06 653.75 455.62 C648.54 457.18 638.12 457.70 635 458.12M623.12 430.62 C626.14 431.04 636.56 431.24 641.25 433.12 C645.94 435.00 651.25 438.96 651.25 441.88 C651.25 444.80 645.94 448.75 641.25 450.62 C636.56 452.49 626.14 452.70 623.12 453.12M623.12 430.62 L623.12 453.12M605.62 427.25 L605.62 456.5M612.5 426.25 L620.62 426.25 L620.62 433.12 L612.5 433.12ZM585 439.38 L589.38 439.38 L589.38 450 L585 450M595 437.5 L599 442.25M595 446.5 L599 442.25M599 442.25 L603.75 442.25M630 433.75 L630 450M511.88 411.5 L511.88 413.5M518.75 411.5 L518.75 413.5M548.12 411.5 L548.12 413.5M562.5 411.5 L562.5 413.5M576.88 411.5 L576.88 413.5M606.25 411.5 L606.25 413.5M620.62 411.5 L620.62 413.5M511.88 581.3 L511.88 579.3M518.75 581.3 L518.75 579.3M548.12 581.3 L548.12 579.3M562.5 581.3 L562.5 579.3M576.88 581.3 L576.88 579.3M606.25 581.3 L606.25 579.3M620.62 581.3 L620.62 579.3"/>
<path class="f" d="M612.5 440 L616.25 440 L616.25 443.75 L612.5 443.75ZM590 426.88 L595.62 426.88 L595.62 430.38 L590 430.38ZM590 453.75 L595.62 453.75 L595.62 457.25 L590 457.25ZM651.25 440.62 L655 440.62 L655 442.88 L651.25 442.88ZM564.75 420.5 L567 422.75 L564.75 425 L562.5 422.75ZM656.25 420.5 L658.5 422.75 L656.25 425 L654 422.75ZM562.5 570.05 L564.75 567.8 L567 570.05 L564.75 572.3ZM654 570.05 L656.25 567.8 L658.5 570.05 L656.25 572.3Z"/>
<path class="g" d="M691 463.75 L693 463.75 L693 528.75 L691 528.75ZM695.25 463.75 L697.25 463.75 L697.25 528.75 L695.25 528.75ZM699.75 463.75 L701.75 463.75 L701.75 528.75 L699.75 528.75ZM693.12 486.25 L704.38 486.25 L704.38 501.25 L693.12 501.25ZM706.25 462.12 L740 462.12 L740 465.38 L706.25 465.38ZM706.25 528.38 L740 528.38 L740 531.12 L706.25 531.12ZM715 491 L737.5 491 L737.5 492.75 L715 492.75ZM715 500.25 L731.25 500.25 L731.25 501.75 L715 501.75ZM775.62 477.5 L779.38 477.5 L779.38 485.62 L775.62 485.62ZM775.62 508.12 L779.38 508.12 L779.38 516.25 L775.62 516.25Z"/>
<path d="M685.62 410 L685.62 450M685.62 542.5 L685.62 582.5M683.88 467.5 a2 2 0 1 0 4 0 a2 2 0 1 0 -4 0ZM683.88 492.5 a2 2 0 1 0 4 0 a2 2 0 1 0 -4 0ZM683.88 501 a2 2 0 1 0 4 0 a2 2 0 1 0 -4 0ZM683.88 525 a2 2 0 1 0 4 0 a2 2 0 1 0 -4 0ZM685.88 469.5 L685.88 490.5M685.88 503 L685.88 523M684.38 469.5 L684.38 490.5M686.88 445.62 L693.75 445.62 L693.75 453.12 L686.88 453.12ZM686.88 540 L693.75 540 L693.75 547.5 L686.88 547.5ZM706.25 462.12 L740 462.12 L740 465.62 L706.25 465.62ZM706.25 528.12 L740 528.12 L740 531.25 L706.25 531.25ZM708.12 470 L708.12 523.75M713.75 470 L713.75 523.75M718.75 470 L718.75 523.75M723.75 470 L723.75 523.75M729.38 470 L729.38 523.75M723.75 457.5 L723.75 541.25M705 490.62 L737.5 490.62 L737.5 493.38 L705 493.38ZM705 499.75 L737.5 499.75 L737.5 502.25 L705 502.25ZM707.5 494.38 L732.5 494.38 L732.5 498.88 L707.5 498.88ZM710 494.38 L710 498.88M712.75 494.38 L712.75 498.88M715.5 494.38 L715.5 498.88M718.25 494.38 L718.25 498.88M721 494.38 L721 498.88M723.75 494.38 L723.75 498.88M726.5 494.38 L726.5 498.88M729.25 494.38 L729.25 498.88M732 494.38 L732 498.88M682.5 496.5 L737.5 496.5M715.62 456.88 L730.62 456.88 L730.62 465 L715.62 465ZM715.62 528.75 L730.62 528.75 L730.62 536.88 L715.62 536.88ZM740 470 L747.5 470 L747.5 523.75 L740 523.75ZM743.75 477.5 L743.75 498.75M743.75 506.25 L743.75 517.5M752.5 477.5 L770.62 477.5 L770.62 481.25 L752.5 481.25ZM760 481.25 L760 485M752.5 508.12 L770.62 508.12 L770.62 511.88 L752.5 511.88ZM760 511.88 L760 515.62M747.5 486.88 L747.5 507.5M755.62 486.88 L755.62 507.5M765 486.88 L765 507.5M734.38 516.25 L736.62 516.25 L736.62 517.5 L734.38 517.5Z"/>
<path class="b" d="M685.62 416.25 L685.62 450M690 463.12 L704.38 463.12 L704.38 530 L690 530ZM691 463.75 L693 463.75 L693 528.75 L691 528.75ZM695.25 463.75 L697.25 463.75 L697.25 528.75 L695.25 528.75ZM699.75 463.75 L701.75 463.75 L701.75 528.75 L699.75 528.75ZM705 465.62 L748.12 465.62 L748.12 470 L705 470ZM705 523.75 L748.12 523.75 L748.12 528.12 L705 528.12ZM705 470 L705 523.75M740 470 L740 523.75M738.125 455.62 a5.625 5.625 0 1 0 11.25 0 a5.625 5.625 0 1 0 -11.25 0ZM750.87 453.12 a2.25 2.25 0 1 0 4.5 0 a2.25 2.25 0 1 0 -4.5 0ZM738.125 537.5 a5.625 5.625 0 1 0 11.25 0 a5.625 5.625 0 1 0 -11.25 0ZM750.87 540.62 a2.25 2.25 0 1 0 4.5 0 a2.25 2.25 0 1 0 -4.5 0ZM746.25 481.25 L778.75 481.25 L778.75 485 L746.25 485ZM774.38 476.25 L780.62 476.25 L780.62 486.88 L774.38 486.88ZM746.25 511.88 L778.75 511.88 L778.75 515.62 L746.25 515.62ZM774.38 506.88 L780.62 506.88 L780.62 517.5 L774.38 517.5Z"/>
<path class="f" d="M691 483.75 L693 483.75 L693 502.5 L691 502.5ZM695.25 483.75 L697.25 483.75 L697.25 502.5 L695.25 502.5ZM699.75 483.75 L701.75 483.75 L701.75 502.5 L699.75 502.5ZM690 520 L704.38 520 L704.38 530 L690 530ZM690 462.5 L704.38 462.5 L704.38 464.25 L690 464.25ZM685 521.25 L690 521.25 L690 526.25 L685 526.25ZM704.38 491.25 L707.5 492 L704.38 493.12ZM704.38 500.25 L707.5 501 L704.38 502ZM716.5 457.75 L730 457.75 L730 464 L716.5 464ZM720 456.25 L726.25 456.25 L726.25 465.62 L720 465.62ZM716.5 529.62 L730 529.62 L730 535.88 L716.5 535.88ZM720 528.12 L726.25 528.12 L726.25 537.5 L720 537.5ZM740 455.62 a3.75 3 0 1 1 7.5 0 a3.75 3 0 1 1 -7.5 0ZM735 455.62 a2.25 2.25 0 1 1 4.5 0 a2.25 2.25 0 1 1 -4.5 0ZM741.25 460.62 L746.88 460.62 L746.88 465 L741.25 465ZM751.88 451.25 L754.62 451.25 L754.62 467.5 L751.88 467.5ZM752.12 465 a1 1 0 1 1 2 0 a1 1 0 1 1 -2 0ZM740 537.5 a3.75 3 0 1 1 7.5 0 a3.75 3 0 1 1 -7.5 0ZM735 537.5 a2.25 2.25 0 1 1 4.5 0 a2.25 2.25 0 1 1 -4.5 0ZM741.25 528.12 L746.88 528.12 L746.88 532.5 L741.25 532.5ZM751.88 525.62 L754.62 525.62 L754.62 541.88 L751.88 541.88ZM752.12 525 a1 1 0 1 1 2 0 a1 1 0 1 1 -2 0ZM741.25 471.25 L746.25 471.25 L746.25 477.5 L741.25 477.5ZM741.25 498.75 L746.25 498.75 L746.25 506.25 L741.25 506.25ZM741.25 517.5 L746.25 517.5 L746.25 523.75 L741.25 523.75Z"/>
<path d="M686.88 445.62 L693.75 445.62 L693.75 453.12 L686.88 453.12ZM648.5 410.62 L648.5 422.5M650.5 410.62 L650.5 422.5M673.5 411.25 L673.5 435M656.25 425 L656.25 428.75M640 425 L683.12 425M686.88 539.67 L693.75 539.67 L693.75 547.17 L686.88 547.17ZM648.5 582.17 L648.5 570.3M650.5 582.17 L650.5 570.3M673.5 581.55 L673.5 557.8M656.25 567.8 L656.25 564.05M640 567.8 L683.12 567.8"/>
<path class="b" d="M691.245 426.88 H695.625 A3.125 3.125 0 0 1 698.75 430.005 V438.125 A3.125 3.125 0 0 1 695.625 441.25 H691.245 A3.125 3.125 0 0 1 688.12 438.125 V430.005 A3.125 3.125 0 0 1 691.245 426.88ZM690.62 430 L690.62 440M693.12 430 L693.12 440M695.62 430 L695.62 440M700 425 L700 431.25M695 436.25 L701.25 439.75M687.25 429 L689.38 429M663.12 411.88 L663.12 413.5M691.245 551.55 H695.625 A3.125 3.125 0 0 1 698.75 554.675 V562.795 A3.125 3.125 0 0 1 695.625 565.92 H691.245 A3.125 3.125 0 0 1 688.12 562.795 V554.675 A3.125 3.125 0 0 1 691.245 551.55ZM690.62 552.8 L690.62 562.8M693.12 552.8 L693.12 562.8M695.62 552.8 L695.62 562.8M700 567.8 L700 561.55M695 556.55 L701.25 553.05M687.25 563.8 L689.38 563.8M663.12 580.92 L663.12 579.3"/>
<path class="f" d="M688.75 427.75 L698.12 427.75 L698.12 431.25 L688.75 431.25ZM698.5 439.75 a2.5 2.5 0 1 1 5 0 a2.5 2.5 0 1 1 -5 0ZM698.25 429 a1.75 1.75 0 1 1 3.5 0 a1.75 1.75 0 1 1 -3.5 0ZM685.125 415.62 a0.875 0.875 0 1 1 1.75 0 a0.875 0.875 0 1 1 -1.75 0ZM685.125 441.25 a0.875 0.875 0 1 1 1.75 0 a0.875 0.875 0 1 1 -1.75 0ZM685 455 a1 1 0 1 1 2 0 a1 1 0 1 1 -2 0ZM656.25 420.5 L658.5 422.75 L656.25 425 L654 422.75ZM688.75 561.55 L698.12 561.55 L698.12 565.05 L688.75 565.05ZM698.5 553.05 a2.5 2.5 0 1 1 5 0 a2.5 2.5 0 1 1 -5 0ZM698.25 563.8 a1.75 1.75 0 1 1 3.5 0 a1.75 1.75 0 1 1 -3.5 0ZM685.125 577.17 a0.875 0.875 0 1 1 1.75 0 a0.875 0.875 0 1 1 -1.75 0ZM685.125 551.55 a0.875 0.875 0 1 1 1.75 0 a0.875 0.875 0 1 1 -1.75 0ZM685 537.8 a1 1 0 1 1 2 0 a1 1 0 1 1 -2 0ZM654 570.05 L656.25 567.8 L658.5 570.05 L656.25 572.3Z"/>
</g>
<g id="p_33_md_fwd">
<path d="M787.5 411.5 C793.33 412.32 810.42 414.08 822.5 416.4 C834.58 418.72 849.42 422.43 860 425.4 C870.58 428.37 877.67 431.13 886 434.2 C894.33 437.27 903.50 440.97 910 443.8 C916.50 446.63 919.58 448.25 925 451.2 C930.42 454.15 937.08 458.03 942.5 461.5 C947.92 464.97 953.08 468.58 957.5 472 C961.92 475.42 965.92 478.92 969 482 C972.08 485.08 974.55 488.10 976 490.5 C977.45 492.90 977.42 495.42 977.7 496.4M787.5 581.3 C793.33 580.48 810.42 578.72 822.5 576.4 C834.58 574.08 849.42 570.37 860 567.4 C870.58 564.43 877.67 561.67 886 558.6 C894.33 555.53 903.50 551.83 910 549 C916.50 546.17 919.58 544.55 925 541.6 C930.42 538.65 937.08 534.77 942.5 531.3 C947.92 527.83 953.08 524.22 957.5 520.8 C961.92 517.38 965.92 513.88 969 510.8 C972.08 507.72 974.55 504.70 976 502.3 C977.45 499.90 977.42 497.38 977.7 496.4M860 416.6 L860 576.2M926.9 433 L926.9 559.8M927.5 478.6 L947.5 478.6 L947.5 496.4 L927.5 496.4ZM927.5 478.6 L947.5 496.4M947.5 478.6 L927.5 496.4M927.5 496.4 L947.5 496.4 L947.5 514.6 L927.5 514.6ZM927.5 496.4 L947.5 514.6M947.5 496.4 L927.5 514.6M802.5 439.75 L802.5 580"/>
<path class="b" d="M760 409.75 C766.67 409.84 788.33 409.82 800 410.3 C811.67 410.78 820.00 411.55 830 412.6 C840.00 413.65 848.33 414.40 860 416.6 C871.67 418.80 887.08 421.98 900 425.8 C912.92 429.62 926.25 434.38 937.5 439.5 C948.75 444.62 959.17 450.58 967.5 456.5 C975.83 462.42 982.75 469.92 987.5 475 C992.25 480.08 994.28 483.43 996 487 C997.72 490.57 997.50 494.83 997.8 496.4M760 583.05 C766.67 582.96 788.33 582.98 800 582.5 C811.67 582.02 820.00 581.25 830 580.2 C840.00 579.15 848.33 578.40 860 576.2 C871.67 574.00 887.08 570.82 900 567 C912.92 563.18 926.25 558.42 937.5 553.3 C948.75 548.18 959.17 542.22 967.5 536.3 C975.83 530.38 982.75 522.88 987.5 517.8 C992.25 512.72 994.28 509.37 996 505.8 C997.72 502.23 997.50 497.97 997.8 496.4"/>
<text x="942.5" y="583.9" font-size="12.2" textLength="68.8" lengthAdjust="spacing" xml:space="preserve">MAIN  DECK</text>
<path class="g" d="M821.25 480 L846.25 480 L846.25 482.25 L821.25 482.25Z"/>
<path d="M780.62 410 L780.62 446.25M787.5 411.5 L787.5 440M780.62 446.25 L786.88 446.25M722.5 439.38 L780.62 439.38M722.5 410.62 L722.5 439.38M734.38 439.38 L743.12 445 L751.25 439.38M738.75 439.38 L746.88 445M747.5 439.38 L739.38 445M787.5 439.75 L802.25 439.75 L802.25 455 L787.5 455ZM787.5 439.75 L802.25 455M802.25 439.75 L787.5 455M796.88 461.25 L802.5 456.25 L802.5 464.38ZM864 434.38 L872.5 434.38 L872.5 455 L864 455ZM864 434.38 L872.5 455M872.5 434.38 L864 455M882.5 441.25 L891.25 441.25 L891.25 463.12 L882.5 463.12ZM882.5 441.25 L891.25 463.12M891.25 441.25 L882.5 463.12M891.88 446.25 L900.62 446.25 L900.62 467.5 L891.88 467.5ZM891.88 446.25 L900.62 467.5M900.62 446.25 L891.88 467.5M915.25 455.62 L923.75 455.62 L923.75 476.25 L915.25 476.25ZM915.25 455.62 L923.75 476.25M923.75 455.62 L915.25 476.25M864.38 455.62 L871.25 455.62 L871.25 465.62 L864.38 465.62ZM864.38 458.12 L871.25 458.12M864.38 460.62 L871.25 460.62M864.38 463.12 L871.25 463.12M892.5 468.12 L899 468.12 L899 481.25 L892.5 481.25ZM892.5 471.41 L899 471.41M892.5 474.69 L899 474.69M892.5 477.97 L899 477.97M916.25 476.88 L923.12 476.88 L923.12 482.5 L916.25 482.5ZM916.25 478.28 L923.12 478.28M916.25 479.69 L923.12 479.69M916.25 481.09 L923.12 481.09M881.88 441.25 L881.88 463.12M901.25 446.88 L901.25 467.5M904.38 450.62 L909.38 450.62 L909.38 455.62 L904.38 455.62ZM865.63 468.12 H869.37 A1.25 1.25 0 0 1 870.62 469.37 V471.25 A1.25 1.25 0 0 1 869.37 472.5 H865.63 A1.25 1.25 0 0 1 864.38 471.25 V469.37 A1.25 1.25 0 0 1 865.63 468.12ZM865.63 492.5 H868.75 A1.25 1.25 0 0 1 870 493.75 V495.63 A1.25 1.25 0 0 1 868.75 496.88 H865.63 A1.25 1.25 0 0 1 864.38 495.63 V493.75 A1.25 1.25 0 0 1 865.63 492.5ZM863.75 473.75 C864.79 473.64 868.64 472.50 870 473.12 C871.36 473.75 872.30 476.14 871.88 477.5 C871.46 478.86 868.23 480.62 867.5 481.25M874.38 467.5 L880 464.38 L883.75 466.88 L879.38 471.25M873.75 501.25 L878.75 496.25 L883.12 500M881.88 481.88 A6.875 6.875 0 0 1 888.75 475M900.62 481.88 A5.625 5.625 0 0 1 911.88 481.88M913.75 483.12 L913.75 525M915 483.12 L915 525M915.62 485 L925.38 485 L925.38 495 L915.62 495ZM915.62 485 L925.38 495M925.38 485 L915.62 495M888.12 492.5 L904.38 492.5 L904.38 500 L888.12 500ZM890.62 492.5 L890.62 500M893.12 492.5 L893.12 500M895.62 492.5 L895.62 500M898.12 492.5 L898.12 500M900.62 492.5 L900.62 500M780.62 582.8 L780.62 546.55M787.5 581.3 L787.5 552.8M780.62 546.55 L786.88 546.55M722.5 553.42 L780.62 553.42M722.5 582.17 L722.5 553.42M734.38 553.42 L743.12 547.8 L751.25 553.42M738.75 553.42 L746.88 547.8M747.5 553.42 L739.38 547.8M787.5 537.8 L802.25 537.8 L802.25 553.05 L787.5 553.05ZM787.5 537.8 L802.25 553.05M802.25 537.8 L787.5 553.05M796.88 531.55 L802.5 536.55 L802.5 528.42ZM864 537.8 L872.5 537.8 L872.5 558.42 L864 558.42ZM864 537.8 L872.5 558.42M872.5 537.8 L864 558.42M882.5 529.67 L891.25 529.67 L891.25 551.55 L882.5 551.55ZM882.5 529.67 L891.25 551.55M891.25 529.67 L882.5 551.55M891.88 525.3 L900.62 525.3 L900.62 546.55 L891.88 546.55ZM891.88 525.3 L900.62 546.55M900.62 525.3 L891.88 546.55M915.25 516.55 L923.75 516.55 L923.75 537.17 L915.25 537.17ZM915.25 516.55 L923.75 537.17M923.75 516.55 L915.25 537.17M864.38 527.17 L871.25 527.17 L871.25 537.17 L864.38 537.17ZM864.38 534.67 L871.25 534.67M864.38 532.17 L871.25 532.17M864.38 529.67 L871.25 529.67M892.5 511.55 L899 511.55 L899 524.67 L892.5 524.67ZM892.5 521.39 L899 521.39M892.5 518.11 L899 518.11M892.5 514.83 L899 514.83M916.25 510.3 L923.12 510.3 L923.12 515.92 L916.25 515.92ZM916.25 514.52 L923.12 514.52M916.25 513.11 L923.12 513.11M916.25 511.71 L923.12 511.71M881.88 551.55 L881.88 529.67M901.25 545.92 L901.25 525.3M904.38 537.17 L909.38 537.17 L909.38 542.17 L904.38 542.17ZM865.63 520.3 H869.37 A1.25 1.25 0 0 1 870.62 521.55 V523.42 A1.25 1.25 0 0 1 869.37 524.67 H865.63 A1.25 1.25 0 0 1 864.38 523.42 V521.55 A1.25 1.25 0 0 1 865.63 520.3ZM865.63 495.92 H868.75 A1.25 1.25 0 0 1 870 497.17 V499.05 A1.25 1.25 0 0 1 868.75 500.3 H865.63 A1.25 1.25 0 0 1 864.38 499.05 V497.17 A1.25 1.25 0 0 1 865.63 495.92ZM863.75 519.05 C864.79 519.15 868.64 520.29 870 519.67 C871.36 519.04 872.30 516.65 871.88 515.3 C871.46 513.95 868.23 512.17 867.5 511.55M874.38 525.3 L880 528.42 L883.75 525.92 L879.38 521.55M873.75 491.55 L878.75 496.55 L883.12 492.8M888.75 517.8 A6.875 6.875 0 0 1 881.88 510.92M911.88 510.92 A5.625 5.625 0 0 1 900.62 510.92M913.75 509.67 L913.75 467.8M915 509.67 L915 467.8M915.62 497.8 L925.38 497.8 L925.38 507.8 L915.62 507.8ZM915.62 497.8 L925.38 507.8M925.38 497.8 L915.62 507.8M888.12 492.8 L904.38 492.8 L904.38 500.3 L888.12 500.3ZM890.62 492.8 L890.62 500.3M893.12 492.8 L893.12 500.3M895.62 492.8 L895.62 500.3M898.12 492.8 L898.12 500.3M900.62 492.8 L900.62 500.3M820.38 439.75 L859.38 439.75 L859.38 480 L820.38 480ZM820.38 439.75 L859.38 480M859.38 439.75 L820.38 480M820.38 440.25 L859.38 440.25M836.25 440.25 L859.38 449.38M853.12 470.62 L859.38 470.62 L859.38 481.25 L853.12 481.25ZM853.12 470.62 L859.38 481.25M859.38 470.62 L853.12 481.25M814.38 456.88 L820 450 L820 460ZM790.62 468.75 L800.62 468.75 L800.62 494.38 L790.62 494.38ZM790.62 470.62 L800.62 470.62M790.62 472.5 L800.62 472.5M790.62 476.25 L800.62 476.25M790.62 478.12 L800.62 478.12M790.62 480 L800.62 480M790.62 475 L800.62 482.5M805 483.5 L858.75 483.5 L858.75 494.5 L805 494.5ZM817.5 482.5 L846.25 482.5 L846.25 495 L817.5 495ZM826.25 494.38 L837.5 483.12M821.25 480 L846.25 480M849.38 494.38 L852.5 490 L856.88 494.38M805.62 496 L815 496 L815 498.25 L805.62 498.25ZM816.25 496 L847.5 496 L847.5 498.25 L816.25 498.25Z"/>
<path class="b" d="M863.75 433.12 L873.12 433.12 L873.12 435 L891.25 440.62 L891.25 482.5M901.25 446.88 L914.38 451.25 L914.38 477.5M863.75 433.12 L863.75 482.5M863.75 482.5 L923.75 482.5M863.75 467.5 L873.75 466.25 L880.62 473.12 L880.62 482.5M861.25 483.12 L877.5 483.12 L877.5 493.75 L872.5 499.38 L861.25 499.38M874.88 480 a2 2 0 1 0 4 0 a2 2 0 1 0 -4 0ZM872.38 485 a2 2 0 1 0 4 0 a2 2 0 1 0 -4 0ZM891.25 500.62 L905 500.62M891.25 500.62 L891.25 508.75M863.75 559.67 L873.12 559.67 L873.12 557.8 L891.25 552.17 L891.25 510.3M901.25 545.92 L914.38 541.55 L914.38 515.3M863.75 559.67 L863.75 510.3M863.75 510.3 L923.75 510.3M863.75 525.3 L873.75 526.55 L880.62 519.67 L880.62 510.3M861.25 509.67 L877.5 509.67 L877.5 499.05 L872.5 493.42 L861.25 493.42M874.88 512.8 a2 2 0 1 0 4 0 a2 2 0 1 0 -4 0ZM872.38 507.8 a2 2 0 1 0 4 0 a2 2 0 1 0 -4 0ZM891.25 492.17 L905 492.17M891.25 492.17 L891.25 484.05M803.12 481.88 L860 481.88 L860 495.62 L803.12 495.62ZM820 483.12 L820 494.38M825 483.12 L825 494.38M828.12 483.12 L828.12 494.38M831.25 483.12 L831.25 494.38M835 483.12 L835 494.38M838.12 483.12 L838.12 494.38M843.75 483.12 L843.75 494.38M803.12 496.88 L860 496.88"/>
<path class="f" d="M782.5 448.75 a1.25 1.25 0 1 1 2.5 0 a1.25 1.25 0 1 1 -2.5 0ZM782.5 544.05 a1.25 1.25 0 1 1 2.5 0 a1.25 1.25 0 1 1 -2.5 0ZM792.75 473.75 L797.5 473.75 L796.25 475.62 L793.75 475.62ZM820.5 489 a1.75 1.75 0 1 1 3.5 0 a1.75 1.75 0 1 1 -3.5 0ZM839.25 489 a1.75 1.75 0 1 1 3.5 0 a1.75 1.75 0 1 1 -3.5 0Z"/>
<g transform="rotate(20 881 430.62)"><path class="b" d="M877 430.62h8v5h-8zM878.5 423.12h5v7.5h-5z"/><path d="M880 423.12v7M882 423.12v7"/></g>
<g transform="rotate(22 906.88 440)"><path class="b" d="M902.88 440h8v5h-8zM904.38 432.5h5v7.5h-5z"/><path d="M905.88 432.5v7M907.88 432.5v7"/></g>
<g transform="translate(0 992.8) scale(1 -1) rotate(20 881 430.62)"><path class="b" d="M877 430.62h8v5h-8zM878.5 423.12h5v7.5h-5z"/><path d="M880 423.12v7M882 423.12v7"/></g>
<g transform="translate(0 992.8) scale(1 -1) rotate(22 906.88 440)"><path class="b" d="M902.88 440h8v5h-8zM904.38 432.5h5v7.5h-5z"/><path d="M905.88 432.5v7M907.88 432.5v7"/></g>
<rect x="803.2" y="523.8" width="29.2" height="55" style="fill:#fff;stroke:none"/>
<path d="M803.12 498.12 L860 498.12M810 498.75 L813.75 502.5 L815 498.75M826.25 498.75 L846.25 498.75 L846.25 503.5 L826.25 503.5ZM836.25 498.75 L836.25 503.5M796.88 506.88 L802.5 500.62 L802.5 509.38ZM796.88 528.75 L802.5 525.62 L802.5 535ZM805.62 516.25 L828.5 516.25 L828.5 522.5 L805.62 522.5ZM845.62 510.62 L858.12 510.62 L858.12 516.88 L845.62 516.88ZM843.12 516.88 L860 516.88M853.38 520.62 H856 A1.5 1.5 0 0 1 857.5 522.12 V522.88 A1.5 1.5 0 0 1 856 524.38 H853.38 A1.5 1.5 0 0 1 851.88 522.88 V522.12 A1.5 1.5 0 0 1 853.38 520.62ZM845.62 528.12 a2.5 2.5 0 1 0 5 0 a2.5 2.5 0 1 0 -5 0ZM846.87 528.12 a1.25 1.25 0 1 0 2.5 0 a1.25 1.25 0 1 0 -2.5 0ZM835.62 528.12 A7.5 7.5 0 0 1 843.12 520.62M833.75 531.88 A7.5 7.5 0 0 1 841.25 539.38M831.5 524.38 L831.5 569.38M833.75 531.88 L833.75 569.38M835 543.75 L842.5 543.75 L842.5 556.25 L835 556.25ZM838.75 543.75 L838.75 556.25M835 548.12 L842.5 548.12M835 551.88 L842.5 551.88M851.88 550 L858.75 550M851.88 553.75 L858.75 553.75M851.88 557.5 L858.75 557.5M833.75 569.38 L859.38 562.5M836.25 563.75 H843.75 A1.25 1.25 0 0 1 845 565 V565.63 A1.25 1.25 0 0 1 843.75 566.88 H836.25 A1.25 1.25 0 0 1 835 565.63 V565 A1.25 1.25 0 0 1 836.25 563.75ZM787.75 538.12 L802.25 538.12 L802.25 558.12 L787.75 558.12ZM787.75 538.12 L802.25 558.12M802.25 538.12 L787.75 558.12M780.62 546.88 L780.62 580M787.25 546.88 L787.25 580M780.62 546.88 L787.25 546.88M765 553.75 L767.5 548.75 L773.12 553.75M762.5 553.75 L762.5 580M802.5 480 L802.5 580M858.75 480 L858.75 562.5"/>
<path class="b" d="M808.12 514.75 L808.12 522.5M811.62 514.75 L811.62 522.5M815.12 514.75 L815.12 522.5M818.62 514.75 L818.62 522.5M822.12 514.75 L822.12 522.5M825.62 514.75 L825.62 522.5M848.12 509 L848.12 516.88M851.38 509 L851.38 516.88M854.62 509 L854.62 516.88M857.88 509 L857.88 516.88M843.12 516.88 L843.12 531.25M833.75 531.88 L859.38 531.88M803.12 580 L803.12 523.75 L832.5 523.75 L832.5 570M851.88 535.62 L858.75 535.62 L858.75 561.88 L851.88 561.88ZM854 540 H856.5 A1.25 1.25 0 0 1 857.75 541.25 V545 A1.25 1.25 0 0 1 856.5 546.25 H854 A1.25 1.25 0 0 1 852.75 545 V541.25 A1.25 1.25 0 0 1 854 540ZM860 480 L860 576.25"/>
<path class="f" d="M820.62 498.75 L823.75 498.75 L823.75 502.5 L820.62 502.5ZM855 543.12 a1.5 1.5 0 1 1 3 0 a1.5 1.5 0 1 1 -3 0ZM782.5 544.38 a1.25 1.25 0 1 1 2.5 0 a1.25 1.25 0 1 1 -2.5 0Z"/>
</g>
<g id="p_40_tween">

<path d="M260 592.9 C258.33 593.25 252.83 593.48 250 595 C247.17 596.52 244.68 598.88 243 602 C241.32 605.12 240.42 611.79 239.9 613.75M260 766.3 C258.33 765.95 252.83 765.72 250 764.2 C247.17 762.68 244.68 760.33 243 757.2 C241.32 754.08 240.42 747.41 239.9 745.45M239.9 613.75 L239.9 745.45M757 594.2 C764.17 594.92 788.67 596.95 800 598.5 C811.33 600.05 816.67 601.20 825 603.5 C833.33 605.80 839.58 607.92 850 612.3 C860.42 616.68 875.00 623.55 887.5 629.8 C900.00 636.05 914.58 643.93 925 649.8 C935.42 655.67 943.83 660.88 950 665 C956.17 669.12 959.28 672.07 962 674.5 C964.72 676.93 965.58 678.75 966.3 679.6M757 765 C764.17 764.28 788.67 762.25 800 760.7 C811.33 759.15 816.67 758.00 825 755.7 C833.33 753.40 839.58 751.28 850 746.9 C860.42 742.52 875.00 735.65 887.5 729.4 C900.00 723.15 914.58 715.27 925 709.4 C935.42 703.53 943.83 698.32 950 694.2 C956.17 690.08 959.28 687.13 962 684.7 C964.72 682.27 965.58 680.45 966.3 679.6M310 592.9 L310 766.3M311.9 592.9 L311.9 766.3M350.8 592.9 L350.8 766.3M416.25 592.9 L416.25 766.3M475 592.9 L475 766.3M297.5 592.9 L297.5 624.4M297.5 734.8 L297.5 766.3M310 624.4 L277.5 624.4 L277.5 651.2 L239.9 651.2M239.9 641.25 L277.5 641.25M241.3 652.5 L270 652.5M285.6 634.4 a5 5 0 1 0 10 0 a5 5 0 1 0 -10 0ZM290.6 626.4 L290.6 642.4M282 634.4 L299.5 634.4M302 625 L305 620.6 L310 625M298.5 597.3 L308.1 597.3 L308.1 606.3 L298.5 606.3ZM452.5 592.9 L452.5 625M416.25 625 L501 625M577 592.9 L577 600M678.75 592.9 L678.75 617.5M715 592.9 L715 617.5M501.25 623.75 a23.75 23.75 0 1 0 47.5 0 a23.75 23.75 0 1 0 -47.5 0ZM553.25 623.75 a23.75 23.75 0 1 0 47.5 0 a23.75 23.75 0 1 0 -47.5 0ZM604.25 623.75 a23.75 23.75 0 1 0 47.5 0 a23.75 23.75 0 1 0 -47.5 0ZM548.5 620 L553.5 620M548.5 627.5 L553.5 627.5M600 620 L605 620M600 627.5 L605 627.5M473.3 639.5 L476.7 639.5 L475 647 L476.7 654.5 L473.3 654.5 L475 647ZM475 639.5 L475 654.5M524.1 649.3 L527.5 649.3 L525.8 657.45 L527.5 665.6 L524.1 665.6 L525.8 657.45ZM525.8 649.3 L525.8 665.6M575 649.3 L578.4 649.3 L576.7 657.45 L578.4 665.6 L575 665.6 L576.7 657.45ZM576.7 649.3 L576.7 665.6M651.75 617.5 L693.75 617.5M686.25 617.5 L686.25 671.25M635 671.25 L686.25 671.25M696.75 617.5 H769.5 A3 3 0 0 1 772.5 620.5 V651.5 A3 3 0 0 1 769.5 654.5 H696.75 A3 3 0 0 1 693.75 651.5 V620.5 A3 3 0 0 1 696.75 617.5ZM613.25 608.75 L620.75 608.75 L620.75 615 L613.25 615ZM743.75 654.5 L743.75 679.6M715 603.75 L778.75 603.75M750 592.9 L750 617.5M778.75 596 L778.75 617.5M795 595.2 L795 617.5M817.5 599 L817.5 617.5M824.25 600.5 L824.25 617.5M772.5 617.5 L802.5 617.5M744 603.75 L744 617.5M765.5 603.75 L765.5 617.5M788 596.8 L788 617.5M802.5 679.6 L802.5 617.5 L825 617.5 L887 643.75 L887 679.6M310 734.8 L277.5 734.8 L277.5 708 L239.9 708M239.9 717.95 L277.5 717.95M241.3 706.7 L270 706.7M285.6 724.8 a5 5 0 1 0 10 0 a5 5 0 1 0 -10 0ZM290.6 716.8 L290.6 732.8M282 724.8 L299.5 724.8M302 734.2 L305 738.6 L310 734.2M298.5 752.9 L308.1 752.9 L308.1 761.9 L298.5 761.9ZM452.5 766.3 L452.5 734.2M416.25 734.2 L501 734.2M577 766.3 L577 759.2M678.75 766.3 L678.75 741.7M715 766.3 L715 741.7M501.25 735.45 a23.75 23.75 0 1 0 47.5 0 a23.75 23.75 0 1 0 -47.5 0ZM553.25 735.45 a23.75 23.75 0 1 0 47.5 0 a23.75 23.75 0 1 0 -47.5 0ZM604.25 735.45 a23.75 23.75 0 1 0 47.5 0 a23.75 23.75 0 1 0 -47.5 0ZM548.5 739.2 L553.5 739.2M548.5 731.7 L553.5 731.7M600 739.2 L605 739.2M600 731.7 L605 731.7M473.3 719.7 L476.7 719.7 L475 712.2 L476.7 704.7 L473.3 704.7 L475 712.2ZM475 719.7 L475 704.7M524.1 709.9 L527.5 709.9 L525.8 701.75 L527.5 693.6 L524.1 693.6 L525.8 701.75ZM525.8 709.9 L525.8 693.6M575 709.9 L578.4 709.9 L576.7 701.75 L578.4 693.6 L575 693.6 L576.7 701.75ZM576.7 709.9 L576.7 693.6M651.75 741.7 L693.75 741.7M686.25 741.7 L686.25 687.95M635 687.95 L686.25 687.95M696.75 704.7 H769.5 A3 3 0 0 1 772.5 707.7 V738.7 A3 3 0 0 1 769.5 741.7 H696.75 A3 3 0 0 1 693.75 738.7 V707.7 A3 3 0 0 1 696.75 704.7ZM613.25 744.2 L620.75 744.2 L620.75 750.45 L613.25 750.45ZM743.75 704.7 L743.75 679.6M715 755.45 L778.75 755.45M750 766.3 L750 741.7M778.75 763.2 L778.75 741.7M795 764 L795 741.7M817.5 760.2 L817.5 741.7M824.25 758.7 L824.25 741.7M772.5 741.7 L802.5 741.7M744 755.45 L744 741.7M765.5 755.45 L765.5 741.7M788 762.4 L788 741.7M802.5 679.6 L802.5 741.7 L825 741.7 L887 715.45 L887 679.6M635 648.75 L635 710M267.5 652.5 L267.5 706.7M270 652.5 L270 706.7M241.3 652.5 L241.3 706.7M426.1 678 a23.4 23.4 0 1 0 46.8 0 a23.4 23.4 0 1 0 -46.8 0ZM443.2 681 a6.3 6.3 0 1 0 12.6 0 a6.3 6.3 0 1 0 -12.6 0ZM447.5 661.5 H451.5 A1 1 0 0 1 452.5 662.5 V666.7 A1 1 0 0 1 451.5 667.7 H447.5 A1 1 0 0 1 446.5 666.7 V662.5 A1 1 0 0 1 447.5 661.5ZM476.6 678 a23.4 23.4 0 1 0 46.8 0 a23.4 23.4 0 1 0 -46.8 0ZM493.7 681 a6.3 6.3 0 1 0 12.6 0 a6.3 6.3 0 1 0 -12.6 0ZM498 661.5 H502 A1 1 0 0 1 503 662.5 V666.7 A1 1 0 0 1 502 667.7 H498 A1 1 0 0 1 497 666.7 V662.5 A1 1 0 0 1 498 661.5ZM527.85 678 a23.4 23.4 0 1 0 46.8 0 a23.4 23.4 0 1 0 -46.8 0ZM544.95 681 a6.3 6.3 0 1 0 12.6 0 a6.3 6.3 0 1 0 -12.6 0ZM549.25 661.5 H553.25 A1 1 0 0 1 554.25 662.5 V666.7 A1 1 0 0 1 553.25 667.7 H549.25 A1 1 0 0 1 548.25 666.7 V662.5 A1 1 0 0 1 549.25 661.5ZM578.1 678 a23.4 23.4 0 1 0 46.8 0 a23.4 23.4 0 1 0 -46.8 0ZM595.2 681 a6.3 6.3 0 1 0 12.6 0 a6.3 6.3 0 1 0 -12.6 0ZM599.5 661.5 H603.5 A1 1 0 0 1 604.5 662.5 V666.7 A1 1 0 0 1 603.5 667.7 H599.5 A1 1 0 0 1 598.5 666.7 V662.5 A1 1 0 0 1 599.5 661.5ZM423.75 630 L456.25 630 L456.25 642.5 L451 642.5 L451 647 L443.5 647 L443.5 651.25 L437 651.25 L437 647.5 L432.5 647.5 L432.5 651.25 L428.5 651.25 L428.5 646 L423.75 646ZM453 709 L462 709 L466 716 L462 719.5 L453 719.5ZM463.75 702 L469.75 702 L469.75 709 L463.75 709ZM463.75 752.5 L472.5 752.5 L472.5 762.1 L463.75 762.1ZM466 734.5 L468.5 731.5 L470 735.5M466 624 L468.5 621 L470 625M296.3 668.2 L309.4 668.2 L309.4 691 L296.3 691ZM298.1 675.2 L331.5 675.2 L331.5 683.6 L298.1 683.6ZM300.5 675.2 L300.5 683.6M302.5 675.2 L302.5 683.6M304.5 675.2 L304.5 683.6M306.5 675.2 L306.5 683.6M310 683.6 L315.5 675.2M312 683.6 L316.5 676.5M298 752.5 L308 752.5 L308 760.5 L298 760.5ZM303 728 L303 748M648.25 673.75 L665 673.75 L665 685 L648.25 685ZM743.75 664 L747 668 L743.75 672M743.75 668 L748 671 L743.75 676M629 694 L636 694 L634 696.5 L629 696.5ZM622.5 704.5 L630 704.5 L630 708 L622.5 708ZM615 657 L622.5 650 L631.5 659 L624 666.5ZM617.8 657 L622.5 652.5 L628.7 659 L624 663.7ZM759.5 681.25 L780 681.25 L780 690 L759.5 690ZM762 690 L770 681.25M768 683 L768 690M770 683 L770 690M772 683 L772 690M774 683 L774 690M776 683 L776 690M780.5 685.6 L783 685.6M787.5 625 L802 622 L802 630.5 L787.5 630ZM787.5 625 L802 630.5M787.5 630 L802 622M787.5 728.2 L801.2 728.2 L801.2 740 L787.5 740ZM787.5 728.2 L801.2 740M801.2 728.2 L787.5 740M794.3 728.2 L794.3 740M887 679.6 L966.3 679.6M913.75 667 L927 667 L927 679.6 L913.75 679.6ZM927 638.5 L927 720.7M947.5 652.5 L947.5 706.7M925 669 L925 676M818 666.3 L883 666.3 L883 712.5 L824.5 735.6M821.5 631.25 H842.25 A4 4 0 0 1 846.25 635.25 V656 A4 4 0 0 1 842.25 660 H821.5 A4 4 0 0 1 817.5 656 V635.25 A4 4 0 0 1 821.5 631.25ZM831.25 631.25 L831.25 660M853 653 L860 653 L860 664.25 L853 664.25ZM853 653 L860 664.25M860 653 L853 664.25M818.75 667.5 L846.25 667.5 L846.25 677.5 L818.75 677.5ZM830 677.5 L836 667.5M838 668 L838 677.5M840 668 L840 677.5M842 668 L842 677.5M844 668 L844 677.5M867 667.5 L873.75 667.5 L873.75 705 L867 705ZM867 673.5 L873.75 673.5M867 679.7 L873.75 679.7M867 686 L873.75 686M867 692.2 L873.75 692.2M867 698.5 L873.75 698.5M826.25 713.75 L831.85 711.85 L834.25 718.55 L828.65 720.45ZM832.15 711.8 L837.75 709.9 L840.15 716.6 L834.55 718.5ZM838.05 709.85 L843.65 707.95 L846.05 714.65 L840.45 716.55ZM843.95 707.9 L849.55 706 L851.95 712.7 L846.35 714.6ZM849.85 705.95 L855.45 704.05 L857.85 710.75 L852.25 712.65ZM855.75 704 L861.35 702.1 L863.75 708.8 L858.15 710.7ZM861.65 702.05 L867.25 700.15 L869.65 706.85 L864.05 708.75ZM830 681.25 L845.5 681.25 L845.5 688.75 L830 688.75ZM830 684 L845.5 684M833.75 690 L840 690 L840 695 L833.75 695ZM836.8 695 L836.8 697M816.5 696 L822.5 696 L822.5 701.5 L816.5 701.5ZM806 710 L810.5 710 L810.5 722.5 L806 722.5ZM805 727.5 L810 727.5 L810 736.5 L805 736.5ZM806.5 677.5 L808 672.5 L814 678M875 667.5 L878.5 664.5 L879.5 670"/>
<path class="b" d="M260 592.9 L750 592.9M260 766.3 L750 766.3M750 592.9 C758.33 593.35 787.50 594.33 800 595.6 C812.50 596.87 816.67 598.33 825 600.5 C833.33 602.67 841.67 605.60 850 608.6 C858.33 611.60 866.67 614.97 875 618.5 C883.33 622.03 889.58 624.63 900 629.8 C910.42 634.97 927.08 643.63 937.5 649.5 C947.92 655.37 956.58 660.92 962.5 665 C968.42 669.08 970.70 671.57 973 674 C975.30 676.43 975.75 678.67 976.3 679.6M750 766.3 C758.33 765.85 787.50 764.87 800 763.6 C812.50 762.33 816.67 760.87 825 758.7 C833.33 756.53 841.67 753.60 850 750.6 C858.33 747.60 866.67 744.23 875 740.7 C883.33 737.17 889.58 734.57 900 729.4 C910.42 724.23 927.08 715.57 937.5 709.7 C947.92 703.83 956.58 698.28 962.5 694.2 C968.42 690.12 970.70 687.63 973 685.2 C975.30 682.77 975.75 680.53 976.3 679.6M665 637.5 H673 A5 5 0 0 1 678 642.5 V643 A5 5 0 0 1 673 648 H665 A5 5 0 0 1 660 643 V642.5 A5 5 0 0 1 665 637.5ZM665 711.2 H673 A5 5 0 0 1 678 716.2 V716.7 A5 5 0 0 1 673 721.7 H665 A5 5 0 0 1 660 716.7 V716.2 A5 5 0 0 1 665 711.2ZM465 700 L470 700M300 742 L300 750M731.5 663.25 H740 A2 2 0 0 1 742 665.25 V676 A2 2 0 0 1 740 678 H731.5 A2 2 0 0 1 729.5 676 V665.25 A2 2 0 0 1 731.5 663.25ZM924 670 L926 670M816.25 664.25 L885 664.25 L885 713.75 L825 737.5 L803.75 737.5 L803.75 678.75 L816.25 678.75 L816.25 664.25"/>
<path class="f" d="M783.75 628.8 L786 631.2 L783.75 633.6 L781.5 631.2ZM781.5 728 L783.75 725.6 L786 728 L783.75 730.4ZM430 709 L453 709 L453 719.5 L430 719.5ZM305.5 679.4 L309.5 677 L309.5 681.8ZM631.5 673.75 L635 673.75 L635 694.75 L631.5 694.75ZM624 660 L628 657 L629 662 L626 664ZM777 683.5 L780.5 685.6 L777 687.7ZM839 672.5 L843 670 L843 675ZM808.75 688.75 L816.25 688.75 L816.25 721.75 L808.75 721.75ZM811 710 L816.5 710 L816.5 722.5 L811 722.5Z"/>
<path style="stroke:#fff;stroke-width:.7;fill:none" d="M433 711.5h4M439 713h5M446 711v6M433 716h8M449 712h3M436 714v4"/>
<path style="stroke-dasharray:6 1.2 1 1.2" d="M802.5 632V668"/>
<text x="931.3" y="763.9" font-size="12.2" textLength="80" lengthAdjust="spacing" xml:space="preserve">TWEEN  DECK</text>
<path class="g" d="M701.85 628.5 L705.25 628.5 L705.25 633.5 L701.85 633.5ZM707.75 628.5 L711.15 628.5 L711.15 633.5 L707.75 633.5ZM713.65 628.5 L717.05 628.5 L717.05 633.5 L713.65 633.5ZM719.55 628.5 L722.95 628.5 L722.95 633.5 L719.55 633.5ZM725.45 628.5 L728.85 628.5 L728.85 633.5 L725.45 633.5ZM731.35 628.5 L734.75 628.5 L734.75 633.5 L731.35 633.5ZM737.25 628.5 L740.65 628.5 L740.65 633.5 L737.25 633.5ZM743.15 628.5 L746.55 628.5 L746.55 633.5 L743.15 633.5ZM749.05 628.5 L752.45 628.5 L752.45 633.5 L749.05 633.5Z"/>
<path d="M693.65 622 L697.85 622 L697.85 646 L693.65 646ZM701.25 627.5 L705.85 627.5 L705.85 640 L701.25 640ZM707.15 627.5 L711.75 627.5 L711.75 640 L707.15 640ZM713.05 627.5 L717.65 627.5 L717.65 640 L713.05 640ZM718.95 627.5 L723.55 627.5 L723.55 640 L718.95 640ZM724.85 627.5 L729.45 627.5 L729.45 640 L724.85 640ZM730.75 627.5 L735.35 627.5 L735.35 640 L730.75 640ZM736.65 627.5 L741.25 627.5 L741.25 640 L736.65 640ZM742.55 627.5 L747.15 627.5 L747.15 640 L742.55 640ZM748.45 627.5 L753.05 627.5 L753.05 640 L748.45 640ZM697.75 645 L757.25 645M697.75 626.3 L757.25 626.3M764.25 627.5 L770.75 627.5 L770.75 634.5 L764.25 634.5Z"/>
<path class="b" d="M697.75 621.3 L756.75 621.3 L756.75 647.8 L697.75 647.8ZM699.25 633.3 L755.25 633.3M758.65 637 a3.6 3.6 0 1 0 7.2 0 a3.6 3.6 0 1 0 -7.2 0ZM751.25 647.8 L757.25 647.8"/>
<path class="f" d="M691.25 625 L693.65 625 L693.65 642 L691.25 642ZM700.25 624 L753.25 624 L753.25 626.2 L700.25 626.2ZM700.25 641 L753.25 641 L753.25 643.4 L700.25 643.4ZM702.25 634.5 L704.85 634.5 L704.85 637.5 L702.25 637.5ZM708.15 634.5 L710.75 634.5 L710.75 637.5 L708.15 637.5ZM714.05 634.5 L716.65 634.5 L716.65 637.5 L714.05 637.5ZM719.95 634.5 L722.55 634.5 L722.55 637.5 L719.95 637.5ZM725.85 634.5 L728.45 634.5 L728.45 637.5 L725.85 637.5ZM731.75 634.5 L734.35 634.5 L734.35 637.5 L731.75 637.5ZM737.65 634.5 L740.25 634.5 L740.25 637.5 L737.65 637.5ZM743.55 634.5 L746.15 634.5 L746.15 637.5 L743.55 637.5ZM749.45 634.5 L752.05 634.5 L752.05 637.5 L749.45 637.5ZM757.25 625.5 L764.25 625.5 L764.25 634.5 L757.25 634.5ZM760.25 641.5 L769.25 641.5 L769.25 644.3 L760.25 644.3ZM765.95 645.3 a1.3 1.3 0 1 1 2.6 0 a1.3 1.3 0 1 1 -2.6 0ZM761.95 645.3 a1.3 1.3 0 1 1 2.6 0 a1.3 1.3 0 1 1 -2.6 0ZM757.95 645.3 a1.3 1.3 0 1 1 2.6 0 a1.3 1.3 0 1 1 -2.6 0Z"/>
<path class="g" d="M701.85 715.25 L705.25 715.25 L705.25 720.25 L701.85 720.25ZM707.75 715.25 L711.15 715.25 L711.15 720.25 L707.75 720.25ZM713.65 715.25 L717.05 715.25 L717.05 720.25 L713.65 720.25ZM719.55 715.25 L722.95 715.25 L722.95 720.25 L719.55 720.25ZM725.45 715.25 L728.85 715.25 L728.85 720.25 L725.45 720.25ZM731.35 715.25 L734.75 715.25 L734.75 720.25 L731.35 720.25ZM737.25 715.25 L740.65 715.25 L740.65 720.25 L737.25 720.25ZM743.15 715.25 L746.55 715.25 L746.55 720.25 L743.15 720.25ZM749.05 715.25 L752.45 715.25 L752.45 720.25 L749.05 720.25Z"/>
<path d="M693.65 708.75 L697.85 708.75 L697.85 732.75 L693.65 732.75ZM701.25 714.25 L705.85 714.25 L705.85 726.75 L701.25 726.75ZM707.15 714.25 L711.75 714.25 L711.75 726.75 L707.15 726.75ZM713.05 714.25 L717.65 714.25 L717.65 726.75 L713.05 726.75ZM718.95 714.25 L723.55 714.25 L723.55 726.75 L718.95 726.75ZM724.85 714.25 L729.45 714.25 L729.45 726.75 L724.85 726.75ZM730.75 714.25 L735.35 714.25 L735.35 726.75 L730.75 726.75ZM736.65 714.25 L741.25 714.25 L741.25 726.75 L736.65 726.75ZM742.55 714.25 L747.15 714.25 L747.15 726.75 L742.55 726.75ZM748.45 714.25 L753.05 714.25 L753.05 726.75 L748.45 726.75ZM697.75 731.75 L757.25 731.75M697.75 713.05 L757.25 713.05M764.25 714.25 L770.75 714.25 L770.75 721.25 L764.25 721.25Z"/>
<path class="b" d="M697.75 708.05 L756.75 708.05 L756.75 734.55 L697.75 734.55ZM699.25 720.05 L755.25 720.05M758.65 723.75 a3.6 3.6 0 1 0 7.2 0 a3.6 3.6 0 1 0 -7.2 0ZM751.25 734.55 L757.25 734.55"/>
<path class="f" d="M691.25 711.75 L693.65 711.75 L693.65 728.75 L691.25 728.75ZM700.25 710.75 L753.25 710.75 L753.25 712.95 L700.25 712.95ZM700.25 727.75 L753.25 727.75 L753.25 730.15 L700.25 730.15ZM702.25 721.25 L704.85 721.25 L704.85 724.25 L702.25 724.25ZM708.15 721.25 L710.75 721.25 L710.75 724.25 L708.15 724.25ZM714.05 721.25 L716.65 721.25 L716.65 724.25 L714.05 724.25ZM719.95 721.25 L722.55 721.25 L722.55 724.25 L719.95 724.25ZM725.85 721.25 L728.45 721.25 L728.45 724.25 L725.85 724.25ZM731.75 721.25 L734.35 721.25 L734.35 724.25 L731.75 724.25ZM737.65 721.25 L740.25 721.25 L740.25 724.25 L737.65 724.25ZM743.55 721.25 L746.15 721.25 L746.15 724.25 L743.55 724.25ZM749.45 721.25 L752.05 721.25 L752.05 724.25 L749.45 724.25ZM757.25 712.25 L764.25 712.25 L764.25 721.25 L757.25 721.25ZM760.25 728.25 L769.25 728.25 L769.25 731.05 L760.25 731.05ZM765.95 732.05 a1.3 1.3 0 1 1 2.6 0 a1.3 1.3 0 1 1 -2.6 0ZM761.95 732.05 a1.3 1.3 0 1 1 2.6 0 a1.3 1.3 0 1 1 -2.6 0ZM757.95 732.05 a1.3 1.3 0 1 1 2.6 0 a1.3 1.3 0 1 1 -2.6 0Z"/>
</g>
</svg>
</body></html>
